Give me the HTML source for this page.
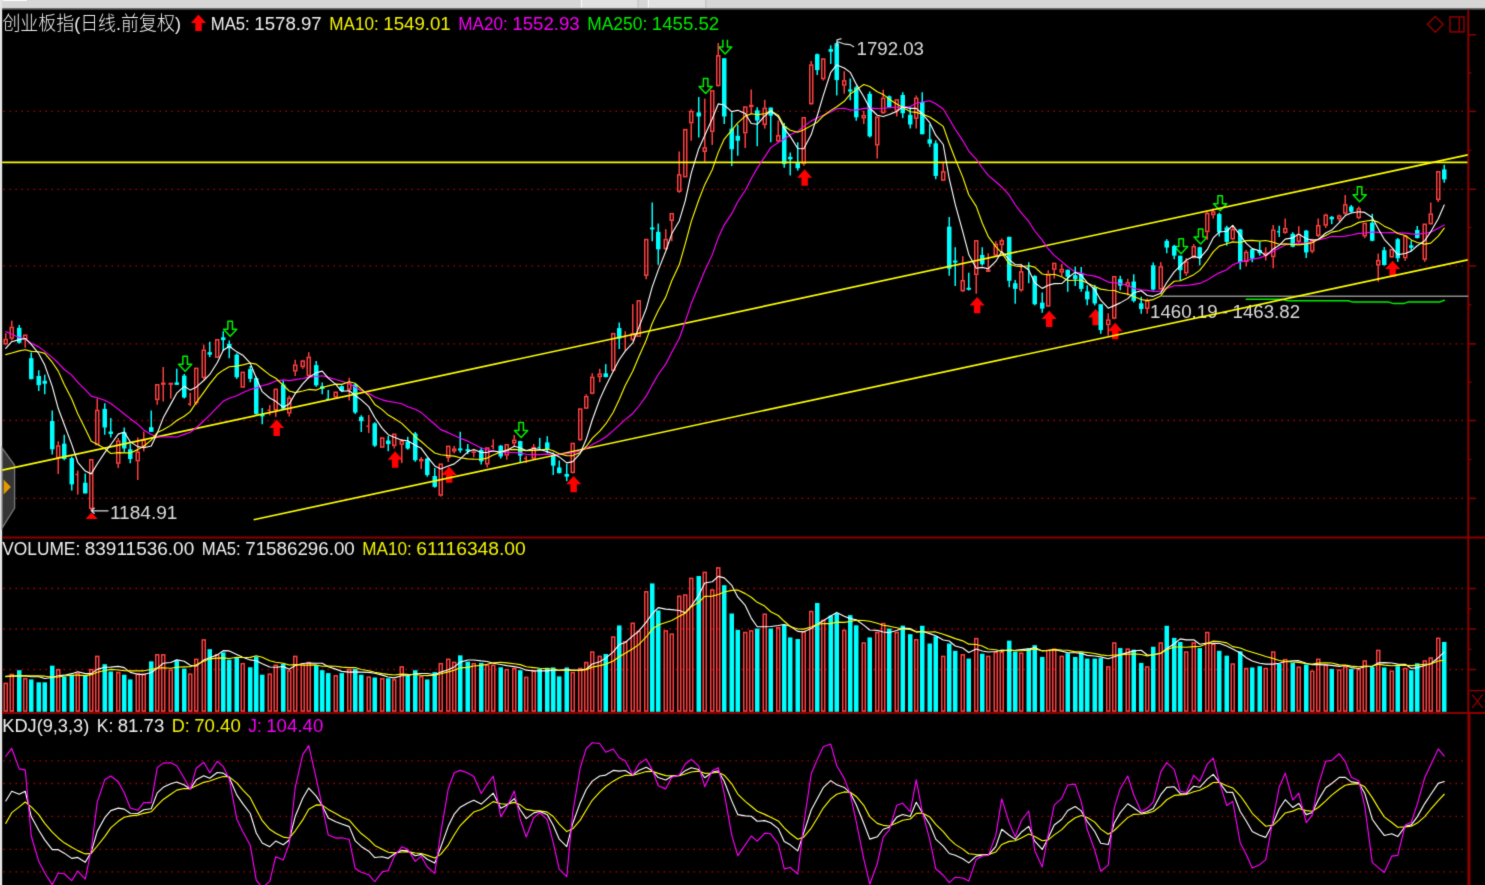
<!DOCTYPE html>
<html><head><meta charset="utf-8"><title>创业板指 日线</title>
<style>
html,body{margin:0;padding:0;background:#000;overflow:hidden}
body{width:1485px;height:885px}
svg{display:block}
text{white-space:pre}
</style></head>
<body>
<svg width="1485" height="885" viewBox="0 0 990 590">
<defs><filter id="soft" x="0" y="0" width="990" height="590" filterUnits="userSpaceOnUse" color-interpolation-filters="sRGB"><feConvolveMatrix order="3" kernelMatrix="1 6 1 6 36 6 1 6 1" divisor="64" edgeMode="duplicate" preserveAlpha="true"/></filter></defs>
<g filter="url(#soft)">
<rect x="0" y="0" width="990" height="590" fill="#000"/>
<rect x="0" y="0" width="990" height="5.7" fill="#d6d6d6"/>
<rect x="0" y="5.5" width="990" height="0.9" fill="#6c6c6c"/>
<rect x="2" y="0" width="16" height="0.7" fill="#fbfbfb"/>
<rect x="387.3" y="0" width="38" height="5" fill="#e0e0e0"/>
<rect x="431.9" y="0" width="38.5" height="5" fill="#e0e0e0"/>
<rect x="387.3" y="0" width="0.8" height="5" fill="#f8f8f8"/>
<rect x="431.9" y="0" width="0.8" height="5" fill="#f8f8f8"/>
<rect x="425.0" y="0" width="0.7" height="5" fill="#bdbdbd"/>
<rect x="470.2" y="0" width="0.7" height="5" fill="#bdbdbd"/>
<rect x="0" y="0" width="1.45" height="590" fill="#e4e4e4"/>
<line x1="2.35" y1="74.27" x2="976.00" y2="74.27" stroke="#c40000" stroke-width="0.9" stroke-dasharray="0.9 3.1"/>
<line x1="2.35" y1="126.20" x2="976.00" y2="126.20" stroke="#c40000" stroke-width="0.9" stroke-dasharray="0.9 3.1"/>
<line x1="2.35" y1="177.27" x2="976.00" y2="177.27" stroke="#c40000" stroke-width="0.9" stroke-dasharray="0.9 3.1"/>
<line x1="2.35" y1="229.27" x2="976.00" y2="229.27" stroke="#c40000" stroke-width="0.9" stroke-dasharray="0.9 3.1"/>
<line x1="2.35" y1="280.33" x2="976.00" y2="280.33" stroke="#c40000" stroke-width="0.9" stroke-dasharray="0.9 3.1"/>
<line x1="2.35" y1="332.27" x2="976.00" y2="332.27" stroke="#c40000" stroke-width="0.9" stroke-dasharray="0.9 3.1"/>
<line x1="2.35" y1="392.33" x2="976.00" y2="392.33" stroke="#c40000" stroke-width="0.9" stroke-dasharray="0.9 3.1"/>
<line x1="2.35" y1="419.33" x2="976.00" y2="419.33" stroke="#c40000" stroke-width="0.9" stroke-dasharray="0.9 3.1"/>
<line x1="2.35" y1="446.33" x2="976.00" y2="446.33" stroke="#c40000" stroke-width="0.9" stroke-dasharray="0.9 3.1"/>
<line x1="2.35" y1="507.27" x2="976.00" y2="507.27" stroke="#c40000" stroke-width="0.9" stroke-dasharray="0.9 3.1"/>
<line x1="2.35" y1="522.33" x2="976.00" y2="522.33" stroke="#c40000" stroke-width="0.9" stroke-dasharray="0.9 3.1"/>
<line x1="2.35" y1="544.27" x2="976.00" y2="544.27" stroke="#c40000" stroke-width="0.9" stroke-dasharray="0.9 3.1"/>
<line x1="2.35" y1="566.27" x2="976.00" y2="566.27" stroke="#c40000" stroke-width="0.9" stroke-dasharray="0.9 3.1"/>
<line x1="2.35" y1="581.27" x2="976.00" y2="581.27" stroke="#c40000" stroke-width="0.9" stroke-dasharray="0.9 3.1"/>
<line x1="1.40" y1="358.33" x2="990.00" y2="358.33" stroke="#8b0000" stroke-width="1.2"/>
<line x1="1.40" y1="475.33" x2="990.00" y2="475.33" stroke="#8b0000" stroke-width="1.4"/>
<line x1="978.85" y1="6.4" x2="978.85" y2="475.5" stroke="#8b0000" stroke-width="1.3"/>
<line x1="979.3000000000001" y1="475.5" x2="979.3000000000001" y2="590" stroke="#8b0000" stroke-width="2.1"/>
<line x1="978.85" y1="23.20" x2="984.15" y2="23.20" stroke="#8b0000" stroke-width="1"/>
<line x1="978.85" y1="48.73" x2="980.85" y2="48.73" stroke="#8b0000" stroke-width="1"/>
<line x1="978.85" y1="74.27" x2="984.15" y2="74.27" stroke="#8b0000" stroke-width="1"/>
<line x1="978.85" y1="100.27" x2="980.85" y2="100.27" stroke="#8b0000" stroke-width="1"/>
<line x1="978.85" y1="126.20" x2="984.15" y2="126.20" stroke="#8b0000" stroke-width="1"/>
<line x1="978.85" y1="151.73" x2="980.85" y2="151.73" stroke="#8b0000" stroke-width="1"/>
<line x1="978.85" y1="177.27" x2="984.15" y2="177.27" stroke="#8b0000" stroke-width="1"/>
<line x1="978.85" y1="203.27" x2="980.85" y2="203.27" stroke="#8b0000" stroke-width="1"/>
<line x1="978.85" y1="229.27" x2="984.15" y2="229.27" stroke="#8b0000" stroke-width="1"/>
<line x1="978.85" y1="254.80" x2="980.85" y2="254.80" stroke="#8b0000" stroke-width="1"/>
<line x1="978.85" y1="280.33" x2="984.15" y2="280.33" stroke="#8b0000" stroke-width="1"/>
<line x1="978.85" y1="306.33" x2="980.85" y2="306.33" stroke="#8b0000" stroke-width="1"/>
<line x1="978.85" y1="332.27" x2="984.15" y2="332.27" stroke="#8b0000" stroke-width="1"/>
<line x1="978.85" y1="392.33" x2="984.15" y2="392.33" stroke="#8b0000" stroke-width="1"/>
<line x1="978.85" y1="405.87" x2="980.85" y2="405.87" stroke="#8b0000" stroke-width="1"/>
<line x1="978.85" y1="419.33" x2="984.15" y2="419.33" stroke="#8b0000" stroke-width="1"/>
<line x1="978.85" y1="432.87" x2="980.85" y2="432.87" stroke="#8b0000" stroke-width="1"/>
<line x1="978.85" y1="446.33" x2="984.15" y2="446.33" stroke="#8b0000" stroke-width="1"/>
<line x1="978.85" y1="460.40" x2="990.00" y2="460.40" stroke="#8b0000" stroke-width="1"/>
<path d="M981.53 463.07L988.40 471.87M988.40 463.07L981.53 471.87" stroke="#8b0000" stroke-width="0.9" fill="none"/>
<rect x="989.47" y="467.00" width="1" height="1" fill="#8b0000"/>
<path d="M956.87 10.93L962.13 16.20L956.87 21.47L951.60 16.20Z" stroke="#8b0000" stroke-width="0.95" fill="none"/>
<rect x="966.67" y="11.27" width="9.33" height="10.00" stroke="#8b0000" stroke-width="1" fill="none"/>
<line x1="972.87" y1="11.27" x2="972.87" y2="21.27" stroke="#8b0000" stroke-width="1"/>
<path d="M1.47 298.73L9.73 310.20L9.73 338.67L1.47 351.93Z" fill="#3a3a3a" fill-opacity="0.92" stroke="#757575" stroke-width="0.9"/>
<path d="M2.40 319.60L7.27 324.60L2.40 329.60Z" fill="#e39a00"/>
<text y="20.20" fill="#f0f0f0" font-family="'Liberation Sans', 'Noto Sans CJK SC', sans-serif" font-size="12.5" font-weight="300"><tspan x="1.60" textLength="119.00" lengthAdjust="spacingAndGlyphs">创业板指(日线.前复权)</tspan></text>
<text y="19.80" fill="#f0f0f0" font-family="'Liberation Sans', 'Noto Sans CJK SC', sans-serif" font-size="12.5"><tspan x="140.50" textLength="26.00" lengthAdjust="spacingAndGlyphs">MA5:</tspan> <tspan x="169.50" textLength="45.00" lengthAdjust="spacingAndGlyphs">1578.97</tspan></text>
<text y="19.80" fill="#f4f400" font-family="'Liberation Sans', 'Noto Sans CJK SC', sans-serif" font-size="12.5"><tspan x="219.50" textLength="33.00" lengthAdjust="spacingAndGlyphs">MA10:</tspan> <tspan x="255.50" textLength="45.00" lengthAdjust="spacingAndGlyphs">1549.01</tspan></text>
<text y="19.80" fill="#f400f4" font-family="'Liberation Sans', 'Noto Sans CJK SC', sans-serif" font-size="12.5"><tspan x="305.50" textLength="33.00" lengthAdjust="spacingAndGlyphs">MA20:</tspan> <tspan x="341.50" textLength="45.00" lengthAdjust="spacingAndGlyphs">1552.93</tspan></text>
<text y="19.80" fill="#00ee00" font-family="'Liberation Sans', 'Noto Sans CJK SC', sans-serif" font-size="12.5"><tspan x="391.50" textLength="40.00" lengthAdjust="spacingAndGlyphs">MA250:</tspan> <tspan x="434.50" textLength="45.00" lengthAdjust="spacingAndGlyphs">1455.52</tspan></text>
<text y="370.33" fill="#f0f0f0" font-family="'Liberation Sans', 'Noto Sans CJK SC', sans-serif" font-size="12.5"><tspan x="1.50" textLength="52.00" lengthAdjust="spacingAndGlyphs">VOLUME:</tspan> <tspan x="56.50" textLength="73.00" lengthAdjust="spacingAndGlyphs">83911536.00</tspan></text>
<text y="370.33" fill="#f0f0f0" font-family="'Liberation Sans', 'Noto Sans CJK SC', sans-serif" font-size="12.5"><tspan x="134.50" textLength="26.00" lengthAdjust="spacingAndGlyphs">MA5:</tspan> <tspan x="163.50" textLength="73.00" lengthAdjust="spacingAndGlyphs">71586296.00</tspan></text>
<text y="370.33" fill="#f4f400" font-family="'Liberation Sans', 'Noto Sans CJK SC', sans-serif" font-size="12.5"><tspan x="241.50" textLength="33.00" lengthAdjust="spacingAndGlyphs">MA10:</tspan> <tspan x="277.50" textLength="73.00" lengthAdjust="spacingAndGlyphs">61116348.00</tspan></text>
<text y="487.93" fill="#f0f0f0" font-family="'Liberation Sans', 'Noto Sans CJK SC', sans-serif" font-size="12.5"><tspan x="1.50" textLength="58.00" lengthAdjust="spacingAndGlyphs">KDJ(9,3,3)</tspan></text>
<text y="487.93" fill="#f0f0f0" font-family="'Liberation Sans', 'Noto Sans CJK SC', sans-serif" font-size="12.5"><tspan x="64.50" textLength="11.00" lengthAdjust="spacingAndGlyphs">K:</tspan> <tspan x="78.50" textLength="31.00" lengthAdjust="spacingAndGlyphs">81.73</tspan></text>
<text y="487.93" fill="#f4f400" font-family="'Liberation Sans', 'Noto Sans CJK SC', sans-serif" font-size="12.5"><tspan x="114.50" textLength="12.00" lengthAdjust="spacingAndGlyphs">D:</tspan> <tspan x="129.50" textLength="31.00" lengthAdjust="spacingAndGlyphs">70.40</tspan></text>
<text y="487.93" fill="#f400f4" font-family="'Liberation Sans', 'Noto Sans CJK SC', sans-serif" font-size="12.5"><tspan x="165.50" textLength="9.00" lengthAdjust="spacingAndGlyphs">J:</tspan> <tspan x="177.50" textLength="38.00" lengthAdjust="spacingAndGlyphs">104.40</tspan></text>
<text y="36.80" fill="#dcdcdc" font-family="'Liberation Sans', 'Noto Sans CJK SC', sans-serif" font-size="12.5"><tspan x="571.00" textLength="45.00" lengthAdjust="spacingAndGlyphs">1792.03</tspan></text>
<text y="345.87" fill="#dcdcdc" font-family="'Liberation Sans', 'Noto Sans CJK SC', sans-serif" font-size="12.5"><tspan x="73.30" textLength="45.00" lengthAdjust="spacingAndGlyphs">1184.91</tspan></text>
<text y="211.80" fill="#dcdcdc" font-family="'Liberation Sans', 'Noto Sans CJK SC', sans-serif" font-size="12.5"><tspan x="766.70" textLength="45.00" lengthAdjust="spacingAndGlyphs">1460.19</tspan> <tspan x="814.70" textLength="4.00" lengthAdjust="spacingAndGlyphs">-</tspan> <tspan x="821.70" textLength="45.00" lengthAdjust="spacingAndGlyphs">1463.82</tspan></text>
<path d="M184.43 279.73L189.48 285.33H186.58V290.63H182.28V285.33H179.38Z" fill="#ff0000"/>
<path d="M263.43 300.87L268.48 306.47H265.58V311.77H261.28V306.47H258.38Z" fill="#ff0000"/>
<path d="M299.43 311.00L304.48 316.60H301.58V321.90H297.28V316.60H294.38Z" fill="#ff0000"/>
<path d="M382.43 317.27L387.48 322.87H384.58V328.17H380.28V322.87H377.38Z" fill="#ff0000"/>
<path d="M536.43 112.87L541.48 118.47H538.58V123.77H534.28V118.47H531.38Z" fill="#ff0000"/>
<path d="M651.43 198.00L656.48 203.60H653.58V208.90H649.28V203.60H646.38Z" fill="#ff0000"/>
<path d="M699.43 207.13L704.48 212.73H701.58V218.03H697.28V212.73H694.38Z" fill="#ff0000"/>
<path d="M730.43 206.00L735.48 211.60H732.58V216.90H728.28V211.60H725.38Z" fill="#ff0000"/>
<path d="M743.43 215.20L748.48 220.80H745.58V226.10H741.28V220.80H738.38Z" fill="#ff0000"/>
<path d="M928.43 173.80L933.48 179.40H930.58V184.70H926.28V179.40H923.38Z" fill="#ff0000"/>
<path d="M132.33 9.73L137.38 15.33H134.48V20.63H130.18V15.33H127.28Z" fill="#ff0000"/>
<path d="M121.93 242.80V237.50H124.93V242.80H127.83L123.43 247.50L119.03 242.80Z" fill="none" stroke="#00f000" stroke-width="1" stroke-linejoin="round"/>
<path d="M151.93 219.53V214.23H154.93V219.53H157.83L153.43 224.23L149.03 219.53Z" fill="none" stroke="#00f000" stroke-width="1" stroke-linejoin="round"/>
<path d="M345.93 286.93V281.63H348.93V286.93H351.83L347.43 291.63L343.03 286.93Z" fill="none" stroke="#00f000" stroke-width="1" stroke-linejoin="round"/>
<path d="M468.93 57.60V52.30H471.93V57.60H474.83L470.43 62.30L466.03 57.60Z" fill="none" stroke="#00f000" stroke-width="1" stroke-linejoin="round"/>
<path d="M785.93 164.40V159.10H788.93V164.40H791.83L787.43 169.10L783.03 164.40Z" fill="none" stroke="#00f000" stroke-width="1" stroke-linejoin="round"/>
<path d="M798.93 157.93V152.63H801.93V157.93H804.83L800.43 162.63L796.03 157.93Z" fill="none" stroke="#00f000" stroke-width="1" stroke-linejoin="round"/>
<path d="M811.93 135.80V130.50H814.93V135.80H817.83L813.43 140.50L809.03 135.80Z" fill="none" stroke="#00f000" stroke-width="1" stroke-linejoin="round"/>
<path d="M904.93 129.80V124.50H907.93V129.80H910.83L906.43 134.50L902.03 129.80Z" fill="none" stroke="#00f000" stroke-width="1" stroke-linejoin="round"/>
<path d="M481.93 26.53V31.33H479.03L483.43 36.03L487.83 31.33H484.93V26.53" fill="none" stroke="#00f000" stroke-width="1" stroke-linejoin="round"/>
<path d="M3.83 222.09V225.86" stroke="#ff4040" stroke-width="1"/>
<path d="M3.83 229.63V230.17" stroke="#ff4040" stroke-width="1"/>
<rect x="2.83" y="226.36" width="2" height="2.77" fill="none" stroke="#ff4040" stroke-width="1"/>
<path d="M7.83 213.79V217.78" stroke="#ff4040" stroke-width="1"/>
<path d="M7.83 225.86V226.94" stroke="#ff4040" stroke-width="1"/>
<rect x="6.83" y="218.28" width="2" height="7.08" fill="none" stroke="#ff4040" stroke-width="1"/>
<path d="M12.83 216.70V229.09" stroke="#00ffff" stroke-width="1"/>
<rect x="11.33" y="218.53" width="3" height="10.02" fill="#00ffff"/>
<path d="M16.83 226.40V231.78" stroke="#ff4040" stroke-width="1"/>
<rect x="15.83" y="223.45" width="2" height="2.45" fill="none" stroke="#ff4040" stroke-width="1"/>
<path d="M20.83 235.02V252.79" stroke="#00ffff" stroke-width="1"/>
<rect x="19.33" y="238.79" width="3" height="14.01" fill="#00ffff"/>
<path d="M25.83 246.87V260.66" stroke="#00ffff" stroke-width="1"/>
<rect x="24.33" y="250.64" width="3" height="6.14" fill="#00ffff"/>
<path d="M29.83 249.78V262.81" stroke="#00ffff" stroke-width="1"/>
<rect x="28.33" y="253.87" width="3" height="1.94" fill="#00ffff"/>
<path d="M34.83 273.67V303.08" stroke="#00ffff" stroke-width="1"/>
<rect x="33.33" y="280.67" width="3" height="18.86" fill="#00ffff"/>
<path d="M38.83 294.14V296.84" stroke="#ff4040" stroke-width="1"/>
<path d="M38.83 305.45V316.01" stroke="#ff4040" stroke-width="1"/>
<rect x="37.83" y="297.34" width="2" height="7.62" fill="none" stroke="#ff4040" stroke-width="1"/>
<path d="M42.83 289.83V306.75" stroke="#00ffff" stroke-width="1"/>
<rect x="41.33" y="295.76" width="3" height="10.24" fill="#00ffff"/>
<path d="M47.83 304.38V327.00" stroke="#00ffff" stroke-width="1"/>
<rect x="46.33" y="305.45" width="3" height="17.45" fill="#00ffff"/>
<path d="M51.83 313.75V329.70" stroke="#ff4040" stroke-width="1"/>
<rect x="50.33" y="315.83" width="1.2" height="1" fill="#ff4040"/>
<path d="M56.83 315.69V328.94" stroke="#00ffff" stroke-width="1"/>
<rect x="55.33" y="321.83" width="3" height="7.11" fill="#00ffff"/>
<path d="M60.83 339.39V339.93" stroke="#ff4040" stroke-width="1"/>
<rect x="59.83" y="306.49" width="2" height="32.40" fill="none" stroke="#ff4040" stroke-width="1"/>
<path d="M64.83 265.59V273.13" stroke="#ff4040" stroke-width="1"/>
<rect x="63.83" y="273.63" width="2" height="22.70" fill="none" stroke="#ff4040" stroke-width="1"/>
<path d="M69.83 268.82V289.83" stroke="#00ffff" stroke-width="1"/>
<rect x="68.33" y="272.59" width="3" height="12.39" fill="#00ffff"/>
<path d="M73.83 278.73V291.66" stroke="#00ffff" stroke-width="1"/>
<rect x="72.33" y="287.68" width="3" height="1.62" fill="#00ffff"/>
<path d="M78.83 291.99V293.60" stroke="#ff4040" stroke-width="1"/>
<path d="M78.83 309.23V311.92" stroke="#ff4040" stroke-width="1"/>
<rect x="77.83" y="294.10" width="2" height="14.62" fill="none" stroke="#ff4040" stroke-width="1"/>
<path d="M82.83 284.98V301.68" stroke="#00ffff" stroke-width="1"/>
<rect x="81.33" y="288.22" width="3" height="10.77" fill="#00ffff"/>
<path d="M86.83 295.76V308.90" stroke="#00ffff" stroke-width="1"/>
<rect x="85.33" y="299.53" width="3" height="6.46" fill="#00ffff"/>
<path d="M91.83 291.66V300.93" stroke="#ff4040" stroke-width="1"/>
<path d="M91.83 307.61V320.00" stroke="#ff4040" stroke-width="1"/>
<rect x="90.83" y="301.43" width="2" height="5.68" fill="none" stroke="#ff4040" stroke-width="1"/>
<path d="M95.83 287.68V293.06" stroke="#ff4040" stroke-width="1"/>
<path d="M95.83 297.91V300.93" stroke="#ff4040" stroke-width="1"/>
<rect x="94.83" y="293.56" width="2" height="3.85" fill="none" stroke="#ff4040" stroke-width="1"/>
<path d="M100.83 273.67V287.89" stroke="#00ffff" stroke-width="1"/>
<rect x="99.33" y="284.77" width="3" height="3.12" fill="#00ffff"/>
<path d="M104.83 266.80V269.82" stroke="#ff4040" stroke-width="1"/>
<rect x="103.83" y="256.53" width="2" height="9.77" fill="none" stroke="#ff4040" stroke-width="1"/>
<path d="M108.83 244.71V254.95" stroke="#ff4040" stroke-width="1"/>
<path d="M108.83 256.57V267.66" stroke="#ff4040" stroke-width="1"/>
<rect x="107.83" y="255.45" width="2" height="0.62" fill="none" stroke="#ff4040" stroke-width="1"/>
<path d="M113.83 256.57V265.72" stroke="#ff4040" stroke-width="1"/>
<rect x="112.83" y="255.66" width="2" height="0.40" fill="none" stroke="#ff4040" stroke-width="1"/>
<path d="M117.83 245.79V256.57" stroke="#00ffff" stroke-width="1"/>
<rect x="116.33" y="254.95" width="3" height="1.62" fill="#00ffff"/>
<path d="M122.83 249.36V265.74" stroke="#00ffff" stroke-width="1"/>
<rect x="121.33" y="250.44" width="3" height="14.55" fill="#00ffff"/>
<path d="M126.83 261.75V270.69" stroke="#ff4040" stroke-width="1"/>
<rect x="125.33" y="268.83" width="1.2" height="1" fill="#ff4040"/>
<path d="M130.83 268.97V269.83" stroke="#ff4040" stroke-width="1"/>
<rect x="129.83" y="245.55" width="2" height="22.92" fill="none" stroke="#ff4040" stroke-width="1"/>
<path d="M135.83 229.75V232.98" stroke="#ff4040" stroke-width="1"/>
<path d="M135.83 252.05V252.81" stroke="#ff4040" stroke-width="1"/>
<rect x="134.83" y="233.48" width="2" height="18.07" fill="none" stroke="#ff4040" stroke-width="1"/>
<path d="M139.83 227.81V238.05" stroke="#00ffff" stroke-width="1"/>
<rect x="138.33" y="234.81" width="3" height="1.62" fill="#00ffff"/>
<rect x="143.83" y="226.48" width="2" height="11.61" fill="none" stroke="#ff4040" stroke-width="1"/>
<path d="M148.83 220.81V234.06" stroke="#00ffff" stroke-width="1"/>
<rect x="147.33" y="224.90" width="3" height="1.83" fill="#00ffff"/>
<path d="M152.83 226.95V238.80" stroke="#00ffff" stroke-width="1"/>
<rect x="151.33" y="229.21" width="3" height="2.91" fill="#00ffff"/>
<path d="M157.83 235.57V252.59" stroke="#00ffff" stroke-width="1"/>
<rect x="156.33" y="236.43" width="3" height="15.08" fill="#00ffff"/>
<rect x="160.83" y="248.24" width="2" height="9.77" fill="none" stroke="#ff4040" stroke-width="1"/>
<path d="M166.83 243.97V254.75" stroke="#00ffff" stroke-width="1"/>
<rect x="165.33" y="246.13" width="3" height="6.46" fill="#00ffff"/>
<path d="M170.83 250.98V276.30" stroke="#00ffff" stroke-width="1"/>
<rect x="169.33" y="252.05" width="3" height="24.03" fill="#00ffff"/>
<path d="M174.83 271.99V282.76" stroke="#00ffff" stroke-width="1"/>
<rect x="173.33" y="276.08" width="3" height="1.51" fill="#00ffff"/>
<path d="M179.83 270.05V276.84" stroke="#ff4040" stroke-width="1"/>
<rect x="178.33" y="272.97" width="1.2" height="1" fill="#ff4040"/>
<path d="M183.83 273.60V277.91" stroke="#ff4040" stroke-width="1"/>
<rect x="182.83" y="259.56" width="2" height="13.55" fill="none" stroke="#ff4040" stroke-width="1"/>
<path d="M188.83 253.67V273.06" stroke="#00ffff" stroke-width="1"/>
<rect x="187.33" y="256.36" width="3" height="16.16" fill="#00ffff"/>
<path d="M192.83 263.91V264.98" stroke="#ff4040" stroke-width="1"/>
<path d="M192.83 275.76V277.59" stroke="#ff4040" stroke-width="1"/>
<rect x="191.83" y="265.48" width="2" height="9.77" fill="none" stroke="#ff4040" stroke-width="1"/>
<path d="M196.83 239.88V242.90" stroke="#ff4040" stroke-width="1"/>
<path d="M196.83 247.74V250.65" stroke="#ff4040" stroke-width="1"/>
<rect x="195.83" y="243.40" width="2" height="3.85" fill="none" stroke="#ff4040" stroke-width="1"/>
<path d="M201.83 239.88V240.20" stroke="#ff4040" stroke-width="1"/>
<path d="M201.83 244.84V245.91" stroke="#ff4040" stroke-width="1"/>
<rect x="200.83" y="240.70" width="2" height="3.63" fill="none" stroke="#ff4040" stroke-width="1"/>
<path d="M205.83 234.81V237.72" stroke="#ff4040" stroke-width="1"/>
<path d="M205.83 250.76V251.52" stroke="#ff4040" stroke-width="1"/>
<rect x="204.83" y="238.22" width="2" height="12.04" fill="none" stroke="#ff4040" stroke-width="1"/>
<path d="M210.83 240.74V257.76" stroke="#00ffff" stroke-width="1"/>
<rect x="209.33" y="243.43" width="3" height="13.47" fill="#00ffff"/>
<path d="M214.83 254.96V262.83" stroke="#00ffff" stroke-width="1"/>
<rect x="213.33" y="257.44" width="3" height="1.83" fill="#00ffff"/>
<path d="M218.83 259.92V266.60" stroke="#00ffff" stroke-width="1"/>
<rect x="217.33" y="265.70" width="1.2" height="1" fill="#00ffff"/>
<rect x="222.83" y="261.50" width="2" height="2.99" fill="none" stroke="#ff4040" stroke-width="1"/>
<path d="M227.83 256.90V261.43" stroke="#00ffff" stroke-width="1"/>
<rect x="226.33" y="257.44" width="3" height="3.23" fill="#00ffff"/>
<path d="M232.83 251.84V255.29" stroke="#ff4040" stroke-width="1"/>
<path d="M232.83 259.92V266.92" stroke="#ff4040" stroke-width="1"/>
<rect x="231.83" y="255.79" width="2" height="3.63" fill="none" stroke="#ff4040" stroke-width="1"/>
<path d="M236.83 255.61V276.08" stroke="#00ffff" stroke-width="1"/>
<rect x="235.33" y="256.36" width="3" height="18.64" fill="#00ffff"/>
<path d="M240.83 276.84V287.93" stroke="#00ffff" stroke-width="1"/>
<rect x="239.33" y="277.91" width="3" height="2.91" fill="#00ffff"/>
<path d="M245.83 276.63V288.70" stroke="#ff4040" stroke-width="1"/>
<rect x="244.33" y="283.63" width="1.2" height="1" fill="#ff4040"/>
<path d="M249.83 281.48V297.97" stroke="#00ffff" stroke-width="1"/>
<rect x="248.33" y="282.24" width="3" height="14.87" fill="#00ffff"/>
<path d="M254.83 298.51V298.72" stroke="#ff4040" stroke-width="1"/>
<rect x="253.83" y="292.00" width="2" height="6.00" fill="none" stroke="#ff4040" stroke-width="1"/>
<path d="M258.83 290.64V300.88" stroke="#00ffff" stroke-width="1"/>
<rect x="257.33" y="293.66" width="3" height="2.37" fill="#00ffff"/>
<path d="M262.83 297.43V299.04" stroke="#ff4040" stroke-width="1"/>
<rect x="261.83" y="289.52" width="2" height="7.40" fill="none" stroke="#ff4040" stroke-width="1"/>
<path d="M267.83 292.79V293.55" stroke="#ff4040" stroke-width="1"/>
<path d="M267.83 296.57V308.74" stroke="#ff4040" stroke-width="1"/>
<rect x="266.83" y="294.05" width="2" height="2.02" fill="none" stroke="#ff4040" stroke-width="1"/>
<path d="M271.83 291.18V299.80" stroke="#00ffff" stroke-width="1"/>
<rect x="270.33" y="294.41" width="3" height="4.63" fill="#00ffff"/>
<path d="M276.83 287.95V307.88" stroke="#00ffff" stroke-width="1"/>
<rect x="275.33" y="289.02" width="3" height="17.78" fill="#00ffff"/>
<path d="M280.83 304.65V305.94" stroke="#ff4040" stroke-width="1"/>
<path d="M280.83 307.66V312.73" stroke="#ff4040" stroke-width="1"/>
<rect x="279.83" y="306.44" width="2" height="0.72" fill="none" stroke="#ff4040" stroke-width="1"/>
<path d="M284.83 305.19V317.79" stroke="#00ffff" stroke-width="1"/>
<rect x="283.33" y="305.72" width="3" height="10.99" fill="#00ffff"/>
<path d="M289.83 311.97V325.12" stroke="#00ffff" stroke-width="1"/>
<rect x="288.33" y="317.36" width="3" height="7.22" fill="#00ffff"/>
<path d="M293.83 330.51V331.04" stroke="#ff4040" stroke-width="1"/>
<rect x="292.83" y="309.46" width="2" height="20.55" fill="none" stroke="#ff4040" stroke-width="1"/>
<path d="M298.83 305.39V308.08" stroke="#ff4040" stroke-width="1"/>
<rect x="297.83" y="297.59" width="2" height="7.30" fill="none" stroke="#ff4040" stroke-width="1"/>
<path d="M302.83 297.31V298.92" stroke="#ff4040" stroke-width="1"/>
<path d="M302.83 301.08V302.15" stroke="#ff4040" stroke-width="1"/>
<rect x="301.83" y="299.42" width="2" height="1.15" fill="none" stroke="#ff4040" stroke-width="1"/>
<path d="M306.83 287.82V301.83" stroke="#00ffff" stroke-width="1"/>
<rect x="305.33" y="298.92" width="3" height="1.40" fill="#00ffff"/>
<path d="M311.83 296.01V302.69" stroke="#00ffff" stroke-width="1"/>
<rect x="310.33" y="299.46" width="3" height="1.40" fill="#00ffff"/>
<path d="M315.83 300.00V300.86" stroke="#ff4040" stroke-width="1"/>
<path d="M315.83 301.94V304.85" stroke="#ff4040" stroke-width="1"/>
<rect x="314.83" y="301.36" width="2" height="0.08" fill="none" stroke="#ff4040" stroke-width="1"/>
<path d="M320.83 298.38V309.70" stroke="#00ffff" stroke-width="1"/>
<rect x="319.33" y="300.00" width="3" height="7.54" fill="#00ffff"/>
<path d="M324.83 309.70V311.64" stroke="#ff4040" stroke-width="1"/>
<rect x="323.83" y="298.67" width="2" height="10.53" fill="none" stroke="#ff4040" stroke-width="1"/>
<path d="M328.83 292.78V299.46" stroke="#ff4040" stroke-width="1"/>
<rect x="327.33" y="296.97" width="1.2" height="1" fill="#ff4040"/>
<path d="M333.83 296.77V305.71" stroke="#00ffff" stroke-width="1"/>
<rect x="332.33" y="297.09" width="3" height="7.22" fill="#00ffff"/>
<path d="M337.83 303.77V306.46" stroke="#ff4040" stroke-width="1"/>
<rect x="336.83" y="296.51" width="2" height="6.76" fill="none" stroke="#ff4040" stroke-width="1"/>
<path d="M342.83 289.98V293.00" stroke="#ff4040" stroke-width="1"/>
<path d="M342.83 295.69V297.85" stroke="#ff4040" stroke-width="1"/>
<rect x="341.83" y="293.50" width="2" height="1.69" fill="none" stroke="#ff4040" stroke-width="1"/>
<path d="M346.83 293.86V308.30" stroke="#00ffff" stroke-width="1"/>
<rect x="345.33" y="294.07" width="3" height="9.70" fill="#00ffff"/>
<path d="M350.83 303.77V308.62" stroke="#ff4040" stroke-width="1"/>
<rect x="349.33" y="305.17" width="1.2" height="1" fill="#ff4040"/>
<path d="M355.83 296.01V297.85" stroke="#ff4040" stroke-width="1"/>
<path d="M355.83 305.93V306.46" stroke="#ff4040" stroke-width="1"/>
<rect x="354.83" y="298.35" width="2" height="7.08" fill="none" stroke="#ff4040" stroke-width="1"/>
<path d="M359.83 291.92V299.46" stroke="#00ffff" stroke-width="1"/>
<rect x="358.33" y="297.90" width="1.2" height="1" fill="#00ffff"/>
<path d="M364.83 290.84V302.15" stroke="#00ffff" stroke-width="1"/>
<rect x="363.33" y="294.94" width="3" height="5.06" fill="#00ffff"/>
<path d="M368.83 301.62V316.70" stroke="#00ffff" stroke-width="1"/>
<rect x="367.33" y="302.69" width="3" height="7.76" fill="#00ffff"/>
<path d="M372.83 307.00V315.62" stroke="#00ffff" stroke-width="1"/>
<rect x="371.33" y="311.64" width="3" height="3.77" fill="#00ffff"/>
<path d="M377.83 309.16V320.79" stroke="#00ffff" stroke-width="1"/>
<rect x="376.33" y="315.95" width="3" height="1.83" fill="#00ffff"/>
<path d="M381.83 315.41V315.62" stroke="#ff4040" stroke-width="1"/>
<rect x="380.83" y="295.65" width="2" height="19.26" fill="none" stroke="#ff4040" stroke-width="1"/>
<path d="M386.83 293.54V293.75" stroke="#ff4040" stroke-width="1"/>
<rect x="385.83" y="272.70" width="2" height="20.33" fill="none" stroke="#ff4040" stroke-width="1"/>
<path d="M390.83 262.83V263.91" stroke="#ff4040" stroke-width="1"/>
<path d="M390.83 272.53V272.74" stroke="#ff4040" stroke-width="1"/>
<rect x="389.83" y="264.41" width="2" height="7.62" fill="none" stroke="#ff4040" stroke-width="1"/>
<path d="M394.83 248.89V251.04" stroke="#ff4040" stroke-width="1"/>
<path d="M394.83 262.57V262.90" stroke="#ff4040" stroke-width="1"/>
<rect x="393.83" y="251.54" width="2" height="10.53" fill="none" stroke="#ff4040" stroke-width="1"/>
<path d="M399.83 245.87V248.89" stroke="#ff4040" stroke-width="1"/>
<path d="M399.83 251.58V254.81" stroke="#ff4040" stroke-width="1"/>
<rect x="398.83" y="249.39" width="2" height="1.69" fill="none" stroke="#ff4040" stroke-width="1"/>
<path d="M403.83 242.75V251.58" stroke="#00ffff" stroke-width="1"/>
<rect x="402.33" y="248.89" width="3" height="2.48" fill="#00ffff"/>
<path d="M408.83 247.27V247.81" stroke="#ff4040" stroke-width="1"/>
<rect x="407.83" y="222.45" width="2" height="24.32" fill="none" stroke="#ff4040" stroke-width="1"/>
<path d="M412.83 214.95V232.73" stroke="#00ffff" stroke-width="1"/>
<rect x="411.33" y="218.72" width="3" height="7.00" fill="#00ffff"/>
<path d="M416.83 220.88V233.80" stroke="#ff4040" stroke-width="1"/>
<rect x="415.33" y="224.10" width="1.2" height="1" fill="#ff4040"/>
<path d="M421.83 202.77V221.95" stroke="#ff4040" stroke-width="1"/>
<path d="M421.83 226.80V227.34" stroke="#ff4040" stroke-width="1"/>
<rect x="420.83" y="222.45" width="2" height="3.85" fill="none" stroke="#ff4040" stroke-width="1"/>
<rect x="424.83" y="200.58" width="2" height="23.57" fill="none" stroke="#ff4040" stroke-width="1"/>
<path d="M430.83 183.97V186.13" stroke="#ff4040" stroke-width="1"/>
<rect x="429.83" y="159.69" width="2" height="23.78" fill="none" stroke="#ff4040" stroke-width="1"/>
<path d="M434.83 134.95V160.81" stroke="#00ffff" stroke-width="1"/>
<rect x="433.33" y="151.65" width="3" height="1.29" fill="#00ffff"/>
<path d="M438.83 148.96V176.43" stroke="#00ffff" stroke-width="1"/>
<rect x="437.33" y="154.56" width="3" height="11.64" fill="#00ffff"/>
<path d="M443.83 152.73V159.19" stroke="#ff4040" stroke-width="1"/>
<path d="M443.83 166.20V166.73" stroke="#ff4040" stroke-width="1"/>
<rect x="442.83" y="159.69" width="2" height="6.00" fill="none" stroke="#ff4040" stroke-width="1"/>
<path d="M447.83 147.34V160.81" stroke="#ff4040" stroke-width="1"/>
<rect x="446.83" y="142.45" width="2" height="4.39" fill="none" stroke="#ff4040" stroke-width="1"/>
<path d="M452.83 101.01V116.09" stroke="#ff4040" stroke-width="1"/>
<path d="M452.83 127.95V128.48" stroke="#ff4040" stroke-width="1"/>
<rect x="451.83" y="116.59" width="2" height="10.85" fill="none" stroke="#ff4040" stroke-width="1"/>
<rect x="455.83" y="86.44" width="2" height="31.32" fill="none" stroke="#ff4040" stroke-width="1"/>
<path d="M460.83 72.79V73.87" stroke="#ff4040" stroke-width="1"/>
<path d="M460.83 82.28V93.80" stroke="#ff4040" stroke-width="1"/>
<rect x="459.83" y="74.37" width="2" height="7.40" fill="none" stroke="#ff4040" stroke-width="1"/>
<path d="M465.83 64.71V91.65" stroke="#00ffff" stroke-width="1"/>
<rect x="464.33" y="74.95" width="3" height="2.69" fill="#00ffff"/>
<path d="M469.83 65.79V98.11" stroke="#ff4040" stroke-width="1"/>
<path d="M469.83 101.35V107.81" stroke="#ff4040" stroke-width="1"/>
<rect x="468.83" y="98.61" width="2" height="2.23" fill="none" stroke="#ff4040" stroke-width="1"/>
<path d="M474.83 88.09V96.71" stroke="#ff4040" stroke-width="1"/>
<rect x="473.83" y="60.58" width="2" height="27.01" fill="none" stroke="#ff4040" stroke-width="1"/>
<path d="M478.83 28.62V36.70" stroke="#ff4040" stroke-width="1"/>
<path d="M478.83 57.49V57.71" stroke="#ff4040" stroke-width="1"/>
<rect x="477.83" y="37.20" width="2" height="19.79" fill="none" stroke="#ff4040" stroke-width="1"/>
<path d="M482.83 38.86V82.71" stroke="#00ffff" stroke-width="1"/>
<rect x="481.33" y="38.86" width="3" height="38.79" fill="#00ffff"/>
<path d="M487.83 74.95V110.72" stroke="#00ffff" stroke-width="1"/>
<rect x="486.33" y="85.72" width="3" height="13.79" fill="#00ffff"/>
<path d="M491.83 83.03V103.82" stroke="#00ffff" stroke-width="1"/>
<rect x="490.33" y="90.57" width="3" height="3.23" fill="#00ffff"/>
<path d="M496.83 88.96V98.65" stroke="#ff4040" stroke-width="1"/>
<rect x="495.83" y="71.36" width="2" height="17.10" fill="none" stroke="#ff4040" stroke-width="1"/>
<path d="M500.83 59.65V69.78" stroke="#ff4040" stroke-width="1"/>
<path d="M500.83 71.50V76.03" stroke="#ff4040" stroke-width="1"/>
<rect x="499.83" y="70.28" width="2" height="0.72" fill="none" stroke="#ff4040" stroke-width="1"/>
<path d="M504.83 71.50V97.58" stroke="#00ffff" stroke-width="1"/>
<rect x="503.33" y="73.55" width="3" height="6.79" fill="#00ffff"/>
<path d="M509.83 66.55V71.72" stroke="#ff4040" stroke-width="1"/>
<path d="M509.83 83.35V85.72" stroke="#ff4040" stroke-width="1"/>
<rect x="508.83" y="72.22" width="2" height="10.64" fill="none" stroke="#ff4040" stroke-width="1"/>
<path d="M513.83 71.72V94.88" stroke="#00ffff" stroke-width="1"/>
<rect x="512.33" y="71.72" width="3" height="5.39" fill="#00ffff"/>
<path d="M518.83 80.34V90.03" stroke="#ff4040" stroke-width="1"/>
<path d="M518.83 94.34V94.88" stroke="#ff4040" stroke-width="1"/>
<rect x="517.83" y="90.53" width="2" height="3.31" fill="none" stroke="#ff4040" stroke-width="1"/>
<path d="M522.83 81.95V111.80" stroke="#00ffff" stroke-width="1"/>
<rect x="521.33" y="84.11" width="3" height="25.32" fill="#00ffff"/>
<path d="M526.83 101.67V116.97" stroke="#00ffff" stroke-width="1"/>
<rect x="525.33" y="104.58" width="3" height="1.62" fill="#00ffff"/>
<path d="M531.83 94.88V113.74" stroke="#00ffff" stroke-width="1"/>
<rect x="530.33" y="108.57" width="3" height="3.56" fill="#00ffff"/>
<path d="M535.83 109.43V110.51" stroke="#ff4040" stroke-width="1"/>
<rect x="534.83" y="78.47" width="2" height="30.46" fill="none" stroke="#ff4040" stroke-width="1"/>
<path d="M540.83 40.69V42.84" stroke="#ff4040" stroke-width="1"/>
<path d="M540.83 69.56V69.78" stroke="#ff4040" stroke-width="1"/>
<rect x="539.83" y="43.34" width="2" height="25.72" fill="none" stroke="#ff4040" stroke-width="1"/>
<path d="M544.83 35.62V49.95" stroke="#00ffff" stroke-width="1"/>
<rect x="543.33" y="36.16" width="3" height="10.56" fill="#00ffff"/>
<path d="M548.83 52.86V53.62" stroke="#ff4040" stroke-width="1"/>
<rect x="547.83" y="39.36" width="2" height="13.01" fill="none" stroke="#ff4040" stroke-width="1"/>
<path d="M553.83 30.24V42.63" stroke="#00ffff" stroke-width="1"/>
<rect x="552.33" y="32.71" width="3" height="1.83" fill="#00ffff"/>
<path d="M557.83 28.08V63.64" stroke="#00ffff" stroke-width="1"/>
<rect x="556.33" y="28.84" width="3" height="24.57" fill="#00ffff"/>
<path d="M562.83 47.47V53.40" stroke="#ff4040" stroke-width="1"/>
<path d="M562.83 57.17V62.56" stroke="#ff4040" stroke-width="1"/>
<rect x="561.83" y="53.90" width="2" height="2.77" fill="none" stroke="#ff4040" stroke-width="1"/>
<path d="M566.83 52.32V66.87" stroke="#00ffff" stroke-width="1"/>
<rect x="565.33" y="59.65" width="3" height="1.29" fill="#00ffff"/>
<path d="M570.83 57.17V80.55" stroke="#00ffff" stroke-width="1"/>
<rect x="569.33" y="58.25" width="3" height="19.93" fill="#00ffff"/>
<path d="M575.83 73.87V76.57" stroke="#ff4040" stroke-width="1"/>
<path d="M575.83 79.04V82.71" stroke="#ff4040" stroke-width="1"/>
<rect x="574.83" y="77.07" width="2" height="1.48" fill="none" stroke="#ff4040" stroke-width="1"/>
<path d="M579.83 60.94V91.65" stroke="#00ffff" stroke-width="1"/>
<rect x="578.33" y="62.56" width="3" height="28.34" fill="#00ffff"/>
<path d="M584.83 97.04V105.66" stroke="#ff4040" stroke-width="1"/>
<rect x="583.83" y="78.14" width="2" height="18.39" fill="none" stroke="#ff4040" stroke-width="1"/>
<path d="M588.83 59.87V65.04" stroke="#ff4040" stroke-width="1"/>
<path d="M588.83 75.49V76.03" stroke="#ff4040" stroke-width="1"/>
<rect x="587.83" y="65.54" width="2" height="9.45" fill="none" stroke="#ff4040" stroke-width="1"/>
<path d="M592.83 63.64V71.72" stroke="#00ffff" stroke-width="1"/>
<rect x="591.33" y="64.18" width="3" height="7.33" fill="#00ffff"/>
<path d="M597.83 73.87V77.64" stroke="#ff4040" stroke-width="1"/>
<rect x="596.83" y="66.61" width="2" height="6.76" fill="none" stroke="#ff4040" stroke-width="1"/>
<path d="M601.83 61.48V78.72" stroke="#00ffff" stroke-width="1"/>
<rect x="600.33" y="63.31" width="3" height="12.18" fill="#00ffff"/>
<path d="M606.83 71.72V85.72" stroke="#00ffff" stroke-width="1"/>
<rect x="605.33" y="76.57" width="3" height="6.46" fill="#00ffff"/>
<path d="M610.83 63.64V65.04" stroke="#ff4040" stroke-width="1"/>
<path d="M610.83 79.26V85.72" stroke="#ff4040" stroke-width="1"/>
<rect x="609.83" y="65.54" width="2" height="13.22" fill="none" stroke="#ff4040" stroke-width="1"/>
<path d="M614.83 61.48V89.49" stroke="#00ffff" stroke-width="1"/>
<rect x="613.33" y="67.95" width="3" height="21.55" fill="#00ffff"/>
<path d="M619.83 82.83V97.91" stroke="#00ffff" stroke-width="1"/>
<rect x="618.33" y="92.85" width="3" height="2.91" fill="#00ffff"/>
<path d="M623.83 93.60V119.46" stroke="#00ffff" stroke-width="1"/>
<rect x="622.33" y="95.54" width="3" height="21.76" fill="#00ffff"/>
<path d="M628.83 108.69V114.07" stroke="#ff4040" stroke-width="1"/>
<rect x="627.83" y="114.57" width="2" height="5.46" fill="none" stroke="#ff4040" stroke-width="1"/>
<path d="M632.83 144.65V183.76" stroke="#00ffff" stroke-width="1"/>
<rect x="631.33" y="151.11" width="3" height="28.01" fill="#00ffff"/>
<path d="M636.83 164.79V190.65" stroke="#00ffff" stroke-width="1"/>
<rect x="635.33" y="173.74" width="3" height="1.29" fill="#00ffff"/>
<path d="M641.83 170.83V186.67" stroke="#ff4040" stroke-width="1"/>
<path d="M641.83 194.21V194.75" stroke="#ff4040" stroke-width="1"/>
<rect x="640.83" y="187.17" width="2" height="6.54" fill="none" stroke="#ff4040" stroke-width="1"/>
<path d="M645.83 181.82V193.67" stroke="#00ffff" stroke-width="1"/>
<rect x="644.33" y="191.84" width="3" height="1.29" fill="#00ffff"/>
<path d="M650.83 183.43V195.82" stroke="#ff4040" stroke-width="1"/>
<rect x="649.83" y="160.55" width="2" height="22.38" fill="none" stroke="#ff4040" stroke-width="1"/>
<path d="M654.83 164.79V176.97" stroke="#00ffff" stroke-width="1"/>
<rect x="653.33" y="169.97" width="3" height="6.25" fill="#00ffff"/>
<path d="M658.83 168.89V179.66" stroke="#ff4040" stroke-width="1"/>
<rect x="657.83" y="180.16" width="2" height="0.62" fill="none" stroke="#ff4040" stroke-width="1"/>
<path d="M663.83 160.81V162.42" stroke="#ff4040" stroke-width="1"/>
<path d="M663.83 170.51V171.04" stroke="#ff4040" stroke-width="1"/>
<rect x="662.83" y="162.92" width="2" height="7.08" fill="none" stroke="#ff4040" stroke-width="1"/>
<path d="M667.83 158.98V160.05" stroke="#ff4040" stroke-width="1"/>
<path d="M667.83 163.50V167.81" stroke="#ff4040" stroke-width="1"/>
<rect x="666.83" y="160.55" width="2" height="2.45" fill="none" stroke="#ff4040" stroke-width="1"/>
<path d="M672.83 157.90V191.52" stroke="#00ffff" stroke-width="1"/>
<rect x="671.33" y="157.90" width="3" height="29.31" fill="#00ffff"/>
<path d="M676.83 186.67V202.51" stroke="#00ffff" stroke-width="1"/>
<rect x="675.33" y="188.82" width="3" height="3.77" fill="#00ffff"/>
<path d="M680.83 175.89V180.74" stroke="#ff4040" stroke-width="1"/>
<path d="M680.83 193.67V194.53" stroke="#ff4040" stroke-width="1"/>
<rect x="679.83" y="181.24" width="2" height="11.93" fill="none" stroke="#ff4040" stroke-width="1"/>
<path d="M685.83 174.81V188.82" stroke="#00ffff" stroke-width="1"/>
<rect x="684.33" y="178.17" width="1.2" height="1" fill="#00ffff"/>
<path d="M689.83 183.43V203.58" stroke="#00ffff" stroke-width="1"/>
<rect x="688.33" y="183.97" width="3" height="18.86" fill="#00ffff"/>
<path d="M694.83 194.96V208.54" stroke="#00ffff" stroke-width="1"/>
<rect x="693.33" y="201.75" width="3" height="3.99" fill="#00ffff"/>
<path d="M698.83 180.20V182.36" stroke="#ff4040" stroke-width="1"/>
<path d="M698.83 204.44V204.66" stroke="#ff4040" stroke-width="1"/>
<rect x="697.83" y="182.86" width="2" height="21.09" fill="none" stroke="#ff4040" stroke-width="1"/>
<path d="M702.83 179.88V185.59" stroke="#ff4040" stroke-width="1"/>
<rect x="701.83" y="175.64" width="2" height="3.74" fill="none" stroke="#ff4040" stroke-width="1"/>
<path d="M707.83 175.89V179.12" stroke="#ff4040" stroke-width="1"/>
<path d="M707.83 181.82V183.97" stroke="#ff4040" stroke-width="1"/>
<rect x="706.83" y="179.62" width="2" height="1.69" fill="none" stroke="#ff4040" stroke-width="1"/>
<path d="M711.83 179.66V194.53" stroke="#00ffff" stroke-width="1"/>
<rect x="710.33" y="179.88" width="3" height="4.63" fill="#00ffff"/>
<path d="M716.83 177.72V190.65" stroke="#00ffff" stroke-width="1"/>
<rect x="715.33" y="183.43" width="3" height="2.69" fill="#00ffff"/>
<path d="M720.83 178.05V194.53" stroke="#00ffff" stroke-width="1"/>
<rect x="719.33" y="182.36" width="3" height="10.24" fill="#00ffff"/>
<path d="M724.83 190.22V203.58" stroke="#00ffff" stroke-width="1"/>
<rect x="723.33" y="194.21" width="3" height="5.39" fill="#00ffff"/>
<path d="M729.83 189.90V203.58" stroke="#00ffff" stroke-width="1"/>
<rect x="728.33" y="191.52" width="3" height="10.77" fill="#00ffff"/>
<path d="M733.83 202.83V222.55" stroke="#00ffff" stroke-width="1"/>
<rect x="732.33" y="202.83" width="3" height="17.24" fill="#00ffff"/>
<path d="M738.83 208.75V212.85" stroke="#ff4040" stroke-width="1"/>
<path d="M738.83 216.84V223.84" stroke="#ff4040" stroke-width="1"/>
<rect x="737.83" y="213.35" width="2" height="2.99" fill="none" stroke="#ff4040" stroke-width="1"/>
<path d="M742.83 212.53V212.85" stroke="#ff4040" stroke-width="1"/>
<rect x="741.83" y="184.47" width="2" height="27.55" fill="none" stroke="#ff4040" stroke-width="1"/>
<path d="M746.83 183.76V193.45" stroke="#00ffff" stroke-width="1"/>
<rect x="745.33" y="186.13" width="3" height="4.31" fill="#00ffff"/>
<path d="M751.83 185.91V188.07" stroke="#ff4040" stroke-width="1"/>
<path d="M751.83 190.98V196.90" stroke="#ff4040" stroke-width="1"/>
<rect x="750.83" y="188.57" width="2" height="1.91" fill="none" stroke="#ff4040" stroke-width="1"/>
<path d="M755.83 182.83V201.68" stroke="#00ffff" stroke-width="1"/>
<rect x="754.33" y="187.68" width="3" height="12.93" fill="#00ffff"/>
<path d="M760.83 197.91V209.23" stroke="#00ffff" stroke-width="1"/>
<rect x="759.33" y="202.22" width="3" height="3.77" fill="#00ffff"/>
<path d="M764.83 198.99V200.07" stroke="#ff4040" stroke-width="1"/>
<path d="M764.83 205.99V209.23" stroke="#ff4040" stroke-width="1"/>
<rect x="763.83" y="200.57" width="2" height="4.93" fill="none" stroke="#ff4040" stroke-width="1"/>
<path d="M768.83 174.96V193.60" stroke="#00ffff" stroke-width="1"/>
<rect x="767.33" y="176.90" width="3" height="16.16" fill="#00ffff"/>
<path d="M773.83 174.75V177.44" stroke="#ff4040" stroke-width="1"/>
<path d="M773.83 193.06V193.28" stroke="#ff4040" stroke-width="1"/>
<rect x="772.83" y="177.94" width="2" height="14.62" fill="none" stroke="#ff4040" stroke-width="1"/>
<path d="M777.83 159.45V168.82" stroke="#00ffff" stroke-width="1"/>
<rect x="776.33" y="160.53" width="3" height="4.53" fill="#00ffff"/>
<path d="M782.83 163.11V172.81" stroke="#00ffff" stroke-width="1"/>
<rect x="781.33" y="163.97" width="3" height="6.46" fill="#00ffff"/>
<path d="M786.83 170.44V187.14" stroke="#00ffff" stroke-width="1"/>
<rect x="785.33" y="170.44" width="3" height="9.70" fill="#00ffff"/>
<path d="M790.83 172.05V174.21" stroke="#ff4040" stroke-width="1"/>
<path d="M790.83 182.29V183.91" stroke="#ff4040" stroke-width="1"/>
<rect x="789.83" y="174.71" width="2" height="7.08" fill="none" stroke="#ff4040" stroke-width="1"/>
<path d="M795.83 162.68V163.97" stroke="#ff4040" stroke-width="1"/>
<path d="M795.83 172.05V172.38" stroke="#ff4040" stroke-width="1"/>
<rect x="794.83" y="164.47" width="2" height="7.08" fill="none" stroke="#ff4040" stroke-width="1"/>
<path d="M799.83 164.51V176.90" stroke="#00ffff" stroke-width="1"/>
<rect x="798.33" y="164.84" width="3" height="7.22" fill="#00ffff"/>
<path d="M804.83 141.13V141.89" stroke="#ff4040" stroke-width="1"/>
<path d="M804.83 154.81V159.87" stroke="#ff4040" stroke-width="1"/>
<rect x="803.83" y="142.39" width="2" height="11.93" fill="none" stroke="#ff4040" stroke-width="1"/>
<path d="M808.83 138.98V140.81" stroke="#ff4040" stroke-width="1"/>
<path d="M808.83 143.50V145.66" stroke="#ff4040" stroke-width="1"/>
<rect x="807.83" y="141.31" width="2" height="1.69" fill="none" stroke="#ff4040" stroke-width="1"/>
<path d="M812.83 141.89V157.72" stroke="#00ffff" stroke-width="1"/>
<rect x="811.33" y="142.64" width="3" height="12.18" fill="#00ffff"/>
<path d="M817.83 150.51V163.76" stroke="#00ffff" stroke-width="1"/>
<rect x="816.33" y="151.58" width="3" height="9.70" fill="#00ffff"/>
<path d="M821.83 149.97V152.66" stroke="#ff4040" stroke-width="1"/>
<path d="M821.83 159.66V160.20" stroke="#ff4040" stroke-width="1"/>
<rect x="820.83" y="153.16" width="2" height="6.00" fill="none" stroke="#ff4040" stroke-width="1"/>
<path d="M826.83 152.66V179.60" stroke="#00ffff" stroke-width="1"/>
<rect x="825.33" y="152.98" width="3" height="21.76" fill="#00ffff"/>
<path d="M830.83 166.67V167.74" stroke="#ff4040" stroke-width="1"/>
<path d="M830.83 174.75V177.44" stroke="#ff4040" stroke-width="1"/>
<rect x="829.83" y="168.24" width="2" height="6.00" fill="none" stroke="#ff4040" stroke-width="1"/>
<path d="M834.83 165.59V174.75" stroke="#00ffff" stroke-width="1"/>
<rect x="833.33" y="166.13" width="3" height="6.25" fill="#00ffff"/>
<path d="M839.83 161.28V170.44" stroke="#00ffff" stroke-width="1"/>
<rect x="838.33" y="166.67" width="3" height="2.15" fill="#00ffff"/>
<path d="M843.83 164.84V168.28" stroke="#ff4040" stroke-width="1"/>
<path d="M843.83 170.44V173.67" stroke="#ff4040" stroke-width="1"/>
<rect x="842.83" y="168.78" width="2" height="1.15" fill="none" stroke="#ff4040" stroke-width="1"/>
<path d="M848.83 149.97V152.98" stroke="#ff4040" stroke-width="1"/>
<path d="M848.83 171.52V178.84" stroke="#ff4040" stroke-width="1"/>
<rect x="847.83" y="153.48" width="2" height="17.53" fill="none" stroke="#ff4040" stroke-width="1"/>
<path d="M852.83 150.51V158.05" stroke="#00ffff" stroke-width="1"/>
<rect x="851.33" y="153.97" width="1.2" height="1" fill="#00ffff"/>
<path d="M856.83 145.66V151.91" stroke="#ff4040" stroke-width="1"/>
<path d="M856.83 155.35V155.89" stroke="#ff4040" stroke-width="1"/>
<rect x="855.83" y="152.41" width="2" height="2.45" fill="none" stroke="#ff4040" stroke-width="1"/>
<path d="M861.83 154.81V164.84" stroke="#00ffff" stroke-width="1"/>
<rect x="860.33" y="155.89" width="3" height="8.62" fill="#00ffff"/>
<path d="M865.83 150.83V155.89" stroke="#ff4040" stroke-width="1"/>
<path d="M865.83 161.28V161.82" stroke="#ff4040" stroke-width="1"/>
<rect x="864.83" y="156.39" width="2" height="4.39" fill="none" stroke="#ff4040" stroke-width="1"/>
<path d="M870.83 153.41V172.05" stroke="#00ffff" stroke-width="1"/>
<rect x="869.33" y="153.74" width="3" height="14.55" fill="#00ffff"/>
<path d="M874.83 159.12V159.66" stroke="#ff4040" stroke-width="1"/>
<path d="M874.83 167.74V168.82" stroke="#ff4040" stroke-width="1"/>
<rect x="873.83" y="160.16" width="2" height="7.08" fill="none" stroke="#ff4040" stroke-width="1"/>
<path d="M878.83 145.66V149.97" stroke="#ff4040" stroke-width="1"/>
<path d="M878.83 157.29V158.05" stroke="#ff4040" stroke-width="1"/>
<rect x="877.83" y="150.47" width="2" height="6.33" fill="none" stroke="#ff4040" stroke-width="1"/>
<path d="M883.83 142.42V142.96" stroke="#ff4040" stroke-width="1"/>
<path d="M883.83 150.51V151.91" stroke="#ff4040" stroke-width="1"/>
<rect x="882.83" y="143.46" width="2" height="6.54" fill="none" stroke="#ff4040" stroke-width="1"/>
<path d="M887.83 144.04V149.43" stroke="#00ffff" stroke-width="1"/>
<rect x="886.33" y="144.58" width="3" height="1.62" fill="#00ffff"/>
<path d="M892.83 142.96V143.50" stroke="#ff4040" stroke-width="1"/>
<path d="M892.83 146.20V147.60" stroke="#ff4040" stroke-width="1"/>
<rect x="891.83" y="144.00" width="2" height="1.69" fill="none" stroke="#ff4040" stroke-width="1"/>
<path d="M896.83 129.95V136.09" stroke="#ff4040" stroke-width="1"/>
<path d="M896.83 142.56V143.10" stroke="#ff4040" stroke-width="1"/>
<rect x="895.83" y="136.59" width="2" height="5.46" fill="none" stroke="#ff4040" stroke-width="1"/>
<path d="M900.83 136.63V141.80" stroke="#00ffff" stroke-width="1"/>
<rect x="899.33" y="137.71" width="3" height="3.45" fill="#00ffff"/>
<path d="M905.83 137.71V138.79" stroke="#ff4040" stroke-width="1"/>
<path d="M905.83 145.47V146.11" stroke="#ff4040" stroke-width="1"/>
<rect x="904.83" y="139.29" width="2" height="5.68" fill="none" stroke="#ff4040" stroke-width="1"/>
<path d="M909.83 157.67V158.80" stroke="#ff4040" stroke-width="1"/>
<rect x="908.83" y="148.98" width="2" height="8.18" fill="none" stroke="#ff4040" stroke-width="1"/>
<path d="M914.83 142.56V160.88" stroke="#00ffff" stroke-width="1"/>
<rect x="913.33" y="148.48" width="3" height="12.07" fill="#00ffff"/>
<path d="M918.83 168.96V173.27" stroke="#ff4040" stroke-width="1"/>
<path d="M918.83 177.04V187.81" stroke="#ff4040" stroke-width="1"/>
<rect x="917.83" y="173.77" width="2" height="2.77" fill="none" stroke="#ff4040" stroke-width="1"/>
<path d="M922.83 164.65V177.04" stroke="#00ffff" stroke-width="1"/>
<rect x="921.33" y="166.80" width="3" height="9.91" fill="#00ffff"/>
<path d="M927.83 171.65V171.97" stroke="#ff4040" stroke-width="1"/>
<rect x="926.83" y="166.44" width="2" height="4.71" fill="none" stroke="#ff4040" stroke-width="1"/>
<path d="M931.83 158.72V174.56" stroke="#00ffff" stroke-width="1"/>
<rect x="930.33" y="159.47" width="3" height="12.71" fill="#00ffff"/>
<path d="M936.83 172.27V173.80" stroke="#ff4040" stroke-width="1"/>
<rect x="935.83" y="157.60" width="2" height="14.16" fill="none" stroke="#ff4040" stroke-width="1"/>
<path d="M940.83 160.34V167.34" stroke="#00ffff" stroke-width="1"/>
<rect x="939.33" y="163.57" width="3" height="1.62" fill="#00ffff"/>
<path d="M944.83 150.64V159.04" stroke="#00ffff" stroke-width="1"/>
<rect x="943.33" y="153.33" width="3" height="5.39" fill="#00ffff"/>
<path d="M949.83 173.27V174.56" stroke="#ff4040" stroke-width="1"/>
<rect x="948.83" y="149.52" width="2" height="23.24" fill="none" stroke="#ff4040" stroke-width="1"/>
<path d="M953.83 135.02V142.24" stroke="#ff4040" stroke-width="1"/>
<path d="M953.83 149.56V149.78" stroke="#ff4040" stroke-width="1"/>
<rect x="952.83" y="142.74" width="2" height="6.33" fill="none" stroke="#ff4040" stroke-width="1"/>
<path d="M958.83 133.40V134.69" stroke="#ff4040" stroke-width="1"/>
<rect x="957.83" y="114.51" width="2" height="18.39" fill="none" stroke="#ff4040" stroke-width="1"/>
<path d="M962.83 109.91V121.76" stroke="#00ffff" stroke-width="1"/>
<rect x="961.33" y="112.93" width="3" height="6.68" fill="#00ffff"/>
<rect x="2.83" y="455.60" width="2" height="18.44" fill="none" stroke="#ff4040" stroke-width="1"/>
<rect x="6.83" y="449.67" width="2" height="24.36" fill="none" stroke="#ff4040" stroke-width="1"/>
<rect x="11.33" y="446.80" width="3" height="27.73" fill="#00ffff"/>
<rect x="15.83" y="452.47" width="2" height="21.56" fill="none" stroke="#ff4040" stroke-width="1"/>
<rect x="19.33" y="452.94" width="3" height="21.59" fill="#00ffff"/>
<rect x="24.33" y="454.88" width="3" height="19.65" fill="#00ffff"/>
<rect x="28.33" y="454.88" width="3" height="19.65" fill="#00ffff"/>
<rect x="33.33" y="443.78" width="3" height="30.75" fill="#00ffff"/>
<rect x="37.83" y="446.44" width="2" height="27.59" fill="none" stroke="#ff4040" stroke-width="1"/>
<rect x="41.33" y="451.11" width="3" height="23.42" fill="#00ffff"/>
<rect x="46.33" y="449.82" width="3" height="24.72" fill="#00ffff"/>
<rect x="50.83" y="448.92" width="2" height="25.12" fill="none" stroke="#ff4040" stroke-width="1"/>
<rect x="55.33" y="450.03" width="3" height="24.50" fill="#00ffff"/>
<rect x="59.83" y="446.44" width="2" height="27.59" fill="none" stroke="#ff4040" stroke-width="1"/>
<rect x="63.83" y="437.60" width="2" height="36.43" fill="none" stroke="#ff4040" stroke-width="1"/>
<rect x="68.33" y="442.81" width="3" height="31.72" fill="#00ffff"/>
<rect x="72.33" y="447.66" width="3" height="26.87" fill="#00ffff"/>
<rect x="77.83" y="448.38" width="2" height="25.65" fill="none" stroke="#ff4040" stroke-width="1"/>
<rect x="81.33" y="449.82" width="3" height="24.72" fill="#00ffff"/>
<rect x="85.33" y="452.94" width="3" height="21.59" fill="#00ffff"/>
<rect x="90.83" y="449.46" width="2" height="24.58" fill="none" stroke="#ff4040" stroke-width="1"/>
<rect x="94.83" y="449.46" width="2" height="24.58" fill="none" stroke="#ff4040" stroke-width="1"/>
<rect x="99.33" y="440.88" width="3" height="33.66" fill="#00ffff"/>
<rect x="103.83" y="436.53" width="2" height="37.51" fill="none" stroke="#ff4040" stroke-width="1"/>
<rect x="107.83" y="436.53" width="2" height="37.51" fill="none" stroke="#ff4040" stroke-width="1"/>
<rect x="112.83" y="446.76" width="2" height="27.27" fill="none" stroke="#ff4040" stroke-width="1"/>
<rect x="116.33" y="440.34" width="3" height="34.20" fill="#00ffff"/>
<rect x="121.33" y="445.72" width="3" height="28.81" fill="#00ffff"/>
<rect x="125.83" y="449.46" width="2" height="24.58" fill="none" stroke="#ff4040" stroke-width="1"/>
<rect x="129.83" y="439.54" width="2" height="34.49" fill="none" stroke="#ff4040" stroke-width="1"/>
<rect x="134.83" y="426.61" width="2" height="47.42" fill="none" stroke="#ff4040" stroke-width="1"/>
<rect x="138.33" y="432.79" width="3" height="41.74" fill="#00ffff"/>
<rect x="143.83" y="436.53" width="2" height="37.51" fill="none" stroke="#ff4040" stroke-width="1"/>
<rect x="147.33" y="434.95" width="3" height="39.58" fill="#00ffff"/>
<rect x="151.33" y="439.80" width="3" height="34.74" fill="#00ffff"/>
<rect x="156.33" y="438.18" width="3" height="36.35" fill="#00ffff"/>
<rect x="160.83" y="442.45" width="2" height="31.58" fill="none" stroke="#ff4040" stroke-width="1"/>
<rect x="165.33" y="444.86" width="3" height="29.67" fill="#00ffff"/>
<rect x="169.33" y="437.64" width="3" height="36.89" fill="#00ffff"/>
<rect x="173.33" y="449.82" width="3" height="24.72" fill="#00ffff"/>
<rect x="178.83" y="449.46" width="2" height="24.58" fill="none" stroke="#ff4040" stroke-width="1"/>
<rect x="182.83" y="443.53" width="2" height="30.50" fill="none" stroke="#ff4040" stroke-width="1"/>
<rect x="187.33" y="442.49" width="3" height="32.04" fill="#00ffff"/>
<rect x="191.83" y="447.30" width="2" height="26.73" fill="none" stroke="#ff4040" stroke-width="1"/>
<rect x="195.83" y="437.60" width="2" height="36.43" fill="none" stroke="#ff4040" stroke-width="1"/>
<rect x="200.83" y="442.78" width="2" height="31.26" fill="none" stroke="#ff4040" stroke-width="1"/>
<rect x="204.83" y="441.70" width="2" height="32.33" fill="none" stroke="#ff4040" stroke-width="1"/>
<rect x="209.33" y="443.57" width="3" height="30.96" fill="#00ffff"/>
<rect x="213.33" y="446.80" width="3" height="27.73" fill="#00ffff"/>
<rect x="217.33" y="448.74" width="3" height="25.79" fill="#00ffff"/>
<rect x="222.83" y="450.53" width="2" height="23.50" fill="none" stroke="#ff4040" stroke-width="1"/>
<rect x="226.33" y="448.74" width="3" height="25.79" fill="#00ffff"/>
<rect x="231.83" y="446.44" width="2" height="27.59" fill="none" stroke="#ff4040" stroke-width="1"/>
<rect x="235.33" y="445.94" width="3" height="28.59" fill="#00ffff"/>
<rect x="239.33" y="449.82" width="3" height="24.72" fill="#00ffff"/>
<rect x="244.83" y="451.40" width="2" height="22.64" fill="none" stroke="#ff4040" stroke-width="1"/>
<rect x="248.33" y="451.65" width="3" height="22.88" fill="#00ffff"/>
<rect x="253.83" y="452.47" width="2" height="21.56" fill="none" stroke="#ff4040" stroke-width="1"/>
<rect x="257.33" y="452.19" width="3" height="22.34" fill="#00ffff"/>
<rect x="261.83" y="453.23" width="2" height="20.81" fill="none" stroke="#ff4040" stroke-width="1"/>
<rect x="266.83" y="444.61" width="2" height="29.43" fill="none" stroke="#ff4040" stroke-width="1"/>
<rect x="270.33" y="450.57" width="3" height="23.96" fill="#00ffff"/>
<rect x="275.33" y="446.80" width="3" height="27.73" fill="#00ffff"/>
<rect x="279.83" y="451.07" width="2" height="22.96" fill="none" stroke="#ff4040" stroke-width="1"/>
<rect x="283.33" y="452.94" width="3" height="21.59" fill="#00ffff"/>
<rect x="288.33" y="448.09" width="3" height="26.44" fill="#00ffff"/>
<rect x="292.83" y="442.45" width="2" height="31.58" fill="none" stroke="#ff4040" stroke-width="1"/>
<rect x="297.83" y="439.54" width="2" height="34.49" fill="none" stroke="#ff4040" stroke-width="1"/>
<rect x="301.83" y="441.59" width="2" height="32.44" fill="none" stroke="#ff4040" stroke-width="1"/>
<rect x="305.33" y="436.89" width="3" height="37.64" fill="#00ffff"/>
<rect x="310.33" y="441.09" width="3" height="33.44" fill="#00ffff"/>
<rect x="314.83" y="442.45" width="2" height="31.58" fill="none" stroke="#ff4040" stroke-width="1"/>
<rect x="319.33" y="441.95" width="3" height="32.58" fill="#00ffff"/>
<rect x="323.83" y="443.53" width="2" height="30.50" fill="none" stroke="#ff4040" stroke-width="1"/>
<rect x="327.83" y="443.53" width="2" height="30.50" fill="none" stroke="#ff4040" stroke-width="1"/>
<rect x="332.33" y="444.86" width="3" height="29.67" fill="#00ffff"/>
<rect x="336.83" y="446.44" width="2" height="27.59" fill="none" stroke="#ff4040" stroke-width="1"/>
<rect x="341.83" y="445.69" width="2" height="28.35" fill="none" stroke="#ff4040" stroke-width="1"/>
<rect x="345.33" y="446.80" width="3" height="27.73" fill="#00ffff"/>
<rect x="349.83" y="451.61" width="2" height="22.42" fill="none" stroke="#ff4040" stroke-width="1"/>
<rect x="354.83" y="447.52" width="2" height="26.52" fill="none" stroke="#ff4040" stroke-width="1"/>
<rect x="358.33" y="445.94" width="3" height="28.59" fill="#00ffff"/>
<rect x="363.33" y="445.19" width="3" height="29.35" fill="#00ffff"/>
<rect x="367.33" y="444.97" width="3" height="29.56" fill="#00ffff"/>
<rect x="371.33" y="450.90" width="3" height="23.64" fill="#00ffff"/>
<rect x="376.33" y="444.97" width="3" height="29.56" fill="#00ffff"/>
<rect x="380.83" y="448.38" width="2" height="25.65" fill="none" stroke="#ff4040" stroke-width="1"/>
<rect x="385.83" y="445.69" width="2" height="28.35" fill="none" stroke="#ff4040" stroke-width="1"/>
<rect x="389.83" y="441.70" width="2" height="32.33" fill="none" stroke="#ff4040" stroke-width="1"/>
<rect x="393.83" y="434.70" width="2" height="39.34" fill="none" stroke="#ff4040" stroke-width="1"/>
<rect x="398.83" y="437.60" width="2" height="36.43" fill="none" stroke="#ff4040" stroke-width="1"/>
<rect x="402.33" y="436.03" width="3" height="38.51" fill="#00ffff"/>
<rect x="407.83" y="424.68" width="2" height="49.36" fill="none" stroke="#ff4040" stroke-width="1"/>
<rect x="411.33" y="416.96" width="3" height="57.58" fill="#00ffff"/>
<rect x="415.83" y="427.91" width="2" height="46.13" fill="none" stroke="#ff4040" stroke-width="1"/>
<rect x="420.83" y="415.52" width="2" height="58.52" fill="none" stroke="#ff4040" stroke-width="1"/>
<rect x="424.83" y="420.90" width="2" height="53.13" fill="none" stroke="#ff4040" stroke-width="1"/>
<rect x="429.83" y="394.51" width="2" height="79.53" fill="none" stroke="#ff4040" stroke-width="1"/>
<rect x="433.33" y="388.94" width="3" height="85.59" fill="#00ffff"/>
<rect x="437.33" y="406.94" width="3" height="67.60" fill="#00ffff"/>
<rect x="442.83" y="420.58" width="2" height="53.45" fill="none" stroke="#ff4040" stroke-width="1"/>
<rect x="446.83" y="422.74" width="2" height="51.30" fill="none" stroke="#ff4040" stroke-width="1"/>
<rect x="451.83" y="397.52" width="2" height="76.51" fill="none" stroke="#ff4040" stroke-width="1"/>
<rect x="455.83" y="396.66" width="2" height="77.37" fill="none" stroke="#ff4040" stroke-width="1"/>
<rect x="459.83" y="385.58" width="2" height="88.45" fill="none" stroke="#ff4040" stroke-width="1"/>
<rect x="464.33" y="384.01" width="3" height="90.53" fill="#00ffff"/>
<rect x="468.83" y="381.60" width="2" height="92.44" fill="none" stroke="#ff4040" stroke-width="1"/>
<rect x="473.83" y="393.34" width="2" height="80.69" fill="none" stroke="#ff4040" stroke-width="1"/>
<rect x="477.83" y="378.58" width="2" height="95.45" fill="none" stroke="#ff4040" stroke-width="1"/>
<rect x="481.33" y="390.15" width="3" height="84.39" fill="#00ffff"/>
<rect x="486.33" y="409.00" width="3" height="65.53" fill="#00ffff"/>
<rect x="490.33" y="419.89" width="3" height="54.65" fill="#00ffff"/>
<rect x="495.83" y="421.68" width="2" height="52.35" fill="none" stroke="#ff4040" stroke-width="1"/>
<rect x="499.83" y="420.60" width="2" height="53.43" fill="none" stroke="#ff4040" stroke-width="1"/>
<rect x="503.33" y="419.02" width="3" height="55.51" fill="#00ffff"/>
<rect x="508.83" y="409.50" width="2" height="64.53" fill="none" stroke="#ff4040" stroke-width="1"/>
<rect x="512.33" y="419.02" width="3" height="55.51" fill="#00ffff"/>
<rect x="517.83" y="418.45" width="2" height="55.59" fill="none" stroke="#ff4040" stroke-width="1"/>
<rect x="521.33" y="416.55" width="3" height="57.99" fill="#00ffff"/>
<rect x="525.33" y="424.95" width="3" height="49.58" fill="#00ffff"/>
<rect x="530.33" y="426.03" width="3" height="48.51" fill="#00ffff"/>
<rect x="534.83" y="421.14" width="2" height="52.89" fill="none" stroke="#ff4040" stroke-width="1"/>
<rect x="539.83" y="407.67" width="2" height="66.36" fill="none" stroke="#ff4040" stroke-width="1"/>
<rect x="543.33" y="402.00" width="3" height="72.53" fill="#00ffff"/>
<rect x="547.83" y="413.60" width="2" height="60.44" fill="none" stroke="#ff4040" stroke-width="1"/>
<rect x="552.33" y="410.40" width="3" height="64.13" fill="#00ffff"/>
<rect x="556.33" y="408.79" width="3" height="65.75" fill="#00ffff"/>
<rect x="561.83" y="420.28" width="2" height="53.76" fill="none" stroke="#ff4040" stroke-width="1"/>
<rect x="565.33" y="410.08" width="3" height="64.45" fill="#00ffff"/>
<rect x="569.33" y="416.87" width="3" height="57.66" fill="#00ffff"/>
<rect x="574.83" y="428.68" width="2" height="45.35" fill="none" stroke="#ff4040" stroke-width="1"/>
<rect x="578.33" y="424.95" width="3" height="49.58" fill="#00ffff"/>
<rect x="583.83" y="421.68" width="2" height="52.35" fill="none" stroke="#ff4040" stroke-width="1"/>
<rect x="587.83" y="415.75" width="2" height="58.28" fill="none" stroke="#ff4040" stroke-width="1"/>
<rect x="591.33" y="419.02" width="3" height="55.51" fill="#00ffff"/>
<rect x="596.83" y="421.68" width="2" height="52.35" fill="none" stroke="#ff4040" stroke-width="1"/>
<rect x="600.33" y="417.08" width="3" height="57.45" fill="#00ffff"/>
<rect x="605.33" y="422.79" width="3" height="51.74" fill="#00ffff"/>
<rect x="609.83" y="426.53" width="2" height="47.51" fill="none" stroke="#ff4040" stroke-width="1"/>
<rect x="613.33" y="417.17" width="3" height="57.36" fill="#00ffff"/>
<rect x="618.33" y="429.02" width="3" height="45.51" fill="#00ffff"/>
<rect x="622.33" y="424.18" width="3" height="50.36" fill="#00ffff"/>
<rect x="627.83" y="437.60" width="2" height="36.43" fill="none" stroke="#ff4040" stroke-width="1"/>
<rect x="631.33" y="429.02" width="3" height="45.51" fill="#00ffff"/>
<rect x="635.33" y="433.87" width="3" height="40.66" fill="#00ffff"/>
<rect x="640.83" y="436.53" width="2" height="37.51" fill="none" stroke="#ff4040" stroke-width="1"/>
<rect x="644.33" y="439.04" width="3" height="35.49" fill="#00ffff"/>
<rect x="649.83" y="425.75" width="2" height="48.28" fill="none" stroke="#ff4040" stroke-width="1"/>
<rect x="653.33" y="435.81" width="3" height="38.72" fill="#00ffff"/>
<rect x="657.83" y="437.60" width="2" height="36.43" fill="none" stroke="#ff4040" stroke-width="1"/>
<rect x="662.83" y="434.91" width="2" height="39.12" fill="none" stroke="#ff4040" stroke-width="1"/>
<rect x="666.83" y="434.91" width="2" height="39.12" fill="none" stroke="#ff4040" stroke-width="1"/>
<rect x="671.33" y="427.08" width="3" height="47.45" fill="#00ffff"/>
<rect x="675.33" y="434.41" width="3" height="40.12" fill="#00ffff"/>
<rect x="679.83" y="435.45" width="2" height="38.58" fill="none" stroke="#ff4040" stroke-width="1"/>
<rect x="684.33" y="432.26" width="3" height="42.28" fill="#00ffff"/>
<rect x="688.33" y="430.10" width="3" height="44.43" fill="#00ffff"/>
<rect x="693.33" y="437.97" width="3" height="36.57" fill="#00ffff"/>
<rect x="697.83" y="433.62" width="2" height="40.42" fill="none" stroke="#ff4040" stroke-width="1"/>
<rect x="701.83" y="432.76" width="2" height="41.28" fill="none" stroke="#ff4040" stroke-width="1"/>
<rect x="706.83" y="437.60" width="2" height="36.43" fill="none" stroke="#ff4040" stroke-width="1"/>
<rect x="710.33" y="435.49" width="3" height="39.05" fill="#00ffff"/>
<rect x="715.33" y="437.97" width="3" height="36.57" fill="#00ffff"/>
<rect x="719.33" y="434.95" width="3" height="39.58" fill="#00ffff"/>
<rect x="723.33" y="439.04" width="3" height="35.49" fill="#00ffff"/>
<rect x="728.33" y="439.04" width="3" height="35.49" fill="#00ffff"/>
<rect x="732.33" y="438.72" width="3" height="35.81" fill="#00ffff"/>
<rect x="737.83" y="444.61" width="2" height="29.43" fill="none" stroke="#ff4040" stroke-width="1"/>
<rect x="741.83" y="428.66" width="2" height="45.37" fill="none" stroke="#ff4040" stroke-width="1"/>
<rect x="745.33" y="432.04" width="3" height="42.49" fill="#00ffff"/>
<rect x="750.83" y="432.76" width="2" height="41.28" fill="none" stroke="#ff4040" stroke-width="1"/>
<rect x="754.33" y="433.12" width="3" height="41.42" fill="#00ffff"/>
<rect x="759.33" y="441.95" width="3" height="32.58" fill="#00ffff"/>
<rect x="763.83" y="444.61" width="2" height="29.43" fill="none" stroke="#ff4040" stroke-width="1"/>
<rect x="767.33" y="431.18" width="3" height="43.35" fill="#00ffff"/>
<rect x="772.83" y="428.66" width="2" height="45.37" fill="none" stroke="#ff4040" stroke-width="1"/>
<rect x="776.33" y="417.17" width="3" height="57.36" fill="#00ffff"/>
<rect x="781.33" y="425.25" width="3" height="49.28" fill="#00ffff"/>
<rect x="785.33" y="427.95" width="3" height="46.59" fill="#00ffff"/>
<rect x="789.83" y="434.70" width="2" height="39.34" fill="none" stroke="#ff4040" stroke-width="1"/>
<rect x="794.83" y="428.66" width="2" height="45.37" fill="none" stroke="#ff4040" stroke-width="1"/>
<rect x="798.33" y="432.04" width="3" height="42.49" fill="#00ffff"/>
<rect x="803.83" y="421.66" width="2" height="52.38" fill="none" stroke="#ff4040" stroke-width="1"/>
<rect x="807.83" y="429.52" width="2" height="44.51" fill="none" stroke="#ff4040" stroke-width="1"/>
<rect x="811.33" y="433.87" width="3" height="40.66" fill="#00ffff"/>
<rect x="816.33" y="437.10" width="3" height="37.43" fill="#00ffff"/>
<rect x="820.83" y="442.67" width="2" height="31.36" fill="none" stroke="#ff4040" stroke-width="1"/>
<rect x="825.33" y="434.20" width="3" height="40.34" fill="#00ffff"/>
<rect x="829.83" y="445.69" width="2" height="28.35" fill="none" stroke="#ff4040" stroke-width="1"/>
<rect x="833.33" y="444.97" width="3" height="29.56" fill="#00ffff"/>
<rect x="838.33" y="444.11" width="3" height="30.43" fill="#00ffff"/>
<rect x="842.83" y="445.69" width="2" height="28.35" fill="none" stroke="#ff4040" stroke-width="1"/>
<rect x="847.83" y="434.70" width="2" height="39.34" fill="none" stroke="#ff4040" stroke-width="1"/>
<rect x="851.33" y="442.49" width="3" height="32.04" fill="#00ffff"/>
<rect x="855.83" y="439.76" width="2" height="34.27" fill="none" stroke="#ff4040" stroke-width="1"/>
<rect x="860.33" y="441.95" width="3" height="32.58" fill="#00ffff"/>
<rect x="864.83" y="444.82" width="2" height="29.21" fill="none" stroke="#ff4040" stroke-width="1"/>
<rect x="869.33" y="443.03" width="3" height="31.50" fill="#00ffff"/>
<rect x="873.83" y="447.52" width="2" height="26.52" fill="none" stroke="#ff4040" stroke-width="1"/>
<rect x="877.83" y="439.54" width="2" height="34.49" fill="none" stroke="#ff4040" stroke-width="1"/>
<rect x="882.83" y="443.53" width="2" height="30.50" fill="none" stroke="#ff4040" stroke-width="1"/>
<rect x="886.33" y="445.94" width="3" height="28.59" fill="#00ffff"/>
<rect x="891.83" y="446.76" width="2" height="27.27" fill="none" stroke="#ff4040" stroke-width="1"/>
<rect x="895.83" y="444.61" width="2" height="29.43" fill="none" stroke="#ff4040" stroke-width="1"/>
<rect x="899.33" y="445.94" width="3" height="28.59" fill="#00ffff"/>
<rect x="904.83" y="446.44" width="2" height="27.59" fill="none" stroke="#ff4040" stroke-width="1"/>
<rect x="908.83" y="440.62" width="2" height="33.41" fill="none" stroke="#ff4040" stroke-width="1"/>
<rect x="913.33" y="444.65" width="3" height="29.89" fill="#00ffff"/>
<rect x="917.83" y="433.62" width="2" height="40.42" fill="none" stroke="#ff4040" stroke-width="1"/>
<rect x="921.33" y="444.97" width="3" height="29.56" fill="#00ffff"/>
<rect x="926.83" y="447.52" width="2" height="26.52" fill="none" stroke="#ff4040" stroke-width="1"/>
<rect x="930.33" y="444.11" width="3" height="30.43" fill="#00ffff"/>
<rect x="935.83" y="445.69" width="2" height="28.35" fill="none" stroke="#ff4040" stroke-width="1"/>
<rect x="939.33" y="446.80" width="3" height="27.73" fill="#00ffff"/>
<rect x="943.33" y="442.17" width="3" height="32.36" fill="#00ffff"/>
<rect x="948.83" y="440.62" width="2" height="33.41" fill="none" stroke="#ff4040" stroke-width="1"/>
<rect x="952.83" y="438.68" width="2" height="35.35" fill="none" stroke="#ff4040" stroke-width="1"/>
<rect x="957.83" y="425.54" width="2" height="48.50" fill="none" stroke="#ff4040" stroke-width="1"/>
<rect x="961.33" y="427.95" width="3" height="46.59" fill="#00ffff"/>
<line x1="774.40" y1="197.47" x2="978.85" y2="197.47" stroke="#8e8e8e" stroke-width="1.0"/>
<path d="M830.83 199.47L854.43 199.47L858.83 200.47L898.83 200.47L901.83 201.40L925.83 201.40L929.03 202.40L935.83 202.40L938.83 201.27L960.03 201.27L962.83 200.20" fill="none" stroke="#00f000" stroke-width="1.0" stroke-linejoin="round" stroke-linecap="round"/>
<line x1="1.47" y1="108.20" x2="978.33" y2="108.20" stroke="#ffff00" stroke-width="1.1"/>
<line x1="1.47" y1="313.40" x2="978.47" y2="103.27" stroke="#ffff00" stroke-width="1.1"/>
<line x1="169.07" y1="346.47" x2="978.47" y2="173.27" stroke="#ffff00" stroke-width="1.1"/>
<path d="M3.83 221.01L7.83 222.84L12.83 225.00L16.83 225.86L20.83 228.88L25.83 231.25L29.83 234.26L34.83 238.25L38.83 242.02L42.83 246.33L47.83 250.10L51.83 254.95L56.83 259.80L60.83 264.11L64.83 265.19L69.83 266.80L73.83 268.96L78.83 272.73L82.83 275.96L86.83 279.12L91.83 282.87L95.83 286.64L100.83 289.61L104.83 291.26L108.83 291.37L113.83 291.29L117.83 291.32L122.83 289.60L126.83 288.19L130.83 285.15L135.83 280.65L139.83 276.69L144.83 271.54L148.83 267.58L152.83 265.52L157.83 263.85L161.83 261.77L166.83 259.72L170.83 258.58L174.83 257.16L179.83 255.74L183.83 254.04L188.83 253.27L192.83 253.72L196.83 253.11L201.83 252.37L205.83 251.42L210.83 251.02L214.83 250.55L218.83 251.61L223.83 253.01L227.83 254.22L232.83 255.69L236.83 258.10L240.83 260.54L245.83 262.14L249.83 264.61L254.83 266.56L258.83 267.56L262.83 268.13L267.83 269.18L271.83 271.18L276.83 272.89L280.83 274.94L284.83 278.63L289.83 282.85L293.83 286.41L298.83 288.42L302.83 290.40L306.83 292.10L311.83 294.09L315.83 296.10L320.83 298.72L324.83 299.87L328.83 300.63L333.83 301.67L337.83 301.61L342.83 301.69L346.83 302.07L350.83 302.85L355.83 303.07L359.83 303.08L364.83 302.74L368.83 302.96L372.83 302.90L377.83 302.56L381.83 301.87L386.83 300.62L390.83 298.87L394.83 296.41L399.83 293.81L403.83 291.34L408.83 287.06L412.83 283.44L416.83 279.75L421.83 275.63L425.83 270.83L430.83 264.14L434.83 256.60L438.83 249.68L443.83 242.75L447.83 234.88L452.83 225.69L456.83 214.46L460.83 202.39L465.83 190.38L469.83 180.53L474.83 169.92L478.83 158.56L482.83 149.89L487.83 142.42L491.83 134.54L496.83 126.99L500.83 119.19L504.83 112.09L509.83 104.58L513.83 98.43L518.83 94.98L522.83 92.80L526.83 89.80L531.83 87.45L535.83 84.25L540.83 80.58L544.83 78.62L548.83 76.87L553.83 74.72L557.83 72.48L562.83 72.15L566.83 73.36L570.83 73.39L575.83 72.24L579.83 72.09L584.83 72.43L588.83 72.20L592.83 71.75L597.83 71.47L601.83 71.39L606.83 71.04L610.83 68.82L614.83 67.99L619.83 67.17L623.83 69.14L628.83 72.70L632.83 79.32L636.83 86.13L641.83 93.73L645.83 100.72L650.83 106.05L654.83 111.82L658.83 116.89L663.83 121.18L667.83 124.64L672.83 130.12L676.83 136.50L680.83 141.96L685.83 147.62L689.83 153.99L694.83 160.12L698.83 165.99L702.83 170.27L707.83 174.44L711.83 177.80L716.83 181.40L720.83 182.08L724.83 183.31L729.83 184.09L733.83 185.43L738.83 188.07L742.83 188.46L746.83 189.00L751.83 190.28L755.83 192.31L760.83 193.25L764.83 193.62L768.83 194.24L773.83 194.14L777.83 192.25L782.83 190.49L786.83 190.38L790.83 190.33L795.83 189.57L799.83 188.95L804.83 186.74L808.83 184.15L812.83 181.91L817.83 179.86L821.83 176.49L826.83 174.59L830.83 173.77L834.83 172.87L839.83 171.91L843.83 170.29L848.83 167.64L852.83 165.40L856.83 163.34L861.83 162.69L865.83 162.23L870.83 162.13L874.83 161.10L878.83 159.89L883.83 158.84L887.83 157.55L892.83 157.63L896.83 157.39L900.83 156.71L905.83 155.58L909.83 155.38L914.83 154.67L918.83 154.94L922.83 155.16L927.83 155.01L931.83 155.21L936.83 155.42L940.83 155.92L944.83 156.26L949.83 155.48L953.83 154.80L958.83 152.09L962.83 150.08" fill="none" stroke="#ff00ff" stroke-width="0.75" stroke-linejoin="round" stroke-linecap="round"/>
<path d="M3.83 236.42L7.83 235.34L12.83 233.94L16.83 233.19L20.83 234.26L25.83 234.48L29.83 235.56L34.83 241.48L38.83 247.41L42.83 256.29L47.83 265.99L51.83 275.78L56.83 285.82L60.83 294.13L64.83 296.16L69.83 298.98L73.83 302.33L78.83 301.74L82.83 301.95L86.83 301.95L91.83 299.75L95.83 297.49L100.83 293.39L104.83 288.39L108.83 286.57L113.83 283.59L117.83 280.32L122.83 277.46L126.83 274.43L130.83 268.34L135.83 261.54L139.83 255.88L144.83 249.69L148.83 246.76L152.83 244.48L157.83 244.11L161.83 243.23L166.83 241.99L170.83 242.72L174.83 245.98L179.83 249.93L183.83 252.19L188.83 256.85L192.83 260.67L196.83 261.75L201.83 260.62L205.83 259.62L210.83 260.05L214.83 258.37L218.83 257.25L223.83 256.09L227.83 256.26L232.83 254.53L236.83 255.53L240.83 259.33L245.83 263.67L249.83 269.61L254.83 273.07L258.83 276.74L262.83 279.01L267.83 282.26L271.83 286.10L276.83 291.25L280.83 294.34L284.83 297.93L289.83 302.03L293.83 303.21L298.83 303.77L302.83 304.06L306.83 305.19L311.83 305.92L315.83 306.11L320.83 306.18L324.83 305.40L328.83 303.33L333.83 301.31L337.83 300.01L342.83 299.60L346.83 300.09L350.83 300.52L355.83 300.22L359.83 300.05L364.83 299.30L368.83 300.53L372.83 302.47L377.83 303.81L381.83 303.73L386.83 301.65L390.83 297.66L394.83 292.30L399.83 287.41L403.83 282.62L408.83 274.81L412.83 266.34L416.83 257.03L421.83 247.45L425.83 237.94L430.83 226.64L434.83 215.54L438.83 207.06L443.83 198.09L447.83 187.15L452.83 176.56L456.83 162.58L460.83 147.74L465.83 133.31L469.83 123.11L474.83 113.20L478.83 101.58L482.83 92.72L487.83 86.76L491.83 81.94L496.83 77.42L500.83 75.80L504.83 76.45L509.83 75.85L513.83 73.75L518.83 76.75L522.83 84.02L526.83 86.88L531.83 88.14L535.83 86.55L540.83 83.75L544.83 81.45L548.83 77.30L553.83 73.58L557.83 71.21L562.83 67.55L566.83 62.70L570.83 59.90L575.83 56.34L579.83 57.64L584.83 61.12L588.83 62.95L592.83 66.21L597.83 69.37L601.83 71.58L606.83 74.54L610.83 74.95L614.83 76.08L619.83 78.00L623.83 80.64L628.83 84.28L632.83 95.69L636.83 106.05L641.83 118.10L645.83 129.87L650.83 137.57L654.83 148.69L658.83 157.70L663.83 164.37L667.83 168.64L672.83 175.96L676.83 177.30L680.83 177.87L685.83 177.14L689.83 178.11L694.83 182.68L698.83 183.29L702.83 182.84L707.83 184.51L711.83 186.96L716.83 186.85L720.83 186.85L724.83 188.74L729.83 191.03L733.83 192.75L738.83 193.47L742.83 193.63L746.83 195.16L751.83 196.05L755.83 197.66L760.83 199.65L764.83 200.39L768.83 199.74L773.83 197.26L777.83 191.75L782.83 187.51L786.83 187.13L790.83 185.51L795.83 183.10L799.83 180.24L804.83 173.83L808.83 167.91L812.83 164.08L817.83 162.46L821.83 161.23L826.83 161.66L830.83 160.42L834.83 160.23L839.83 160.72L843.83 160.34L848.83 161.45L852.83 162.88L856.83 162.59L861.83 162.92L865.83 163.24L870.83 162.59L874.83 161.79L878.83 159.54L883.83 156.96L887.83 154.75L892.83 153.80L896.83 151.90L900.83 150.82L905.83 148.25L909.83 147.51L914.83 146.74L918.83 148.10L922.83 150.77L927.83 153.07L931.83 155.67L936.83 157.03L940.83 159.94L944.83 161.69L949.83 162.72L953.83 162.09L958.83 157.44L962.83 152.07" fill="none" stroke="#ffff00" stroke-width="0.75" stroke-linejoin="round" stroke-linecap="round"/>
<path d="M3.83 232.32L7.83 227.80L12.83 226.40L16.83 225.64L20.83 229.59L25.83 235.77L29.83 243.38L34.83 257.57L38.83 272.35L42.83 282.99L47.83 296.22L51.83 308.19L56.83 314.07L60.83 315.91L64.83 309.33L69.83 301.75L73.83 296.47L78.83 289.40L82.83 288.00L86.83 294.57L91.83 297.76L95.83 298.52L100.83 297.37L104.83 288.78L108.83 278.57L113.83 269.42L117.83 262.12L122.83 257.54L126.83 260.08L130.83 258.10L135.83 253.67L139.83 249.64L144.83 241.84L148.83 233.44L152.83 230.85L157.83 234.56L161.83 236.82L166.83 242.14L170.83 252.01L174.83 261.10L179.83 265.31L183.83 267.57L188.83 271.56L192.83 269.34L196.83 262.40L201.83 255.93L205.83 251.67L210.83 248.54L214.83 247.40L218.83 252.10L223.83 256.26L227.83 260.85L232.83 260.52L236.83 263.67L240.83 266.56L245.83 271.08L249.83 278.37L254.83 285.61L258.83 289.82L262.83 291.46L267.83 293.44L271.83 293.83L276.83 296.89L280.83 298.87L284.83 304.41L289.83 310.62L293.83 312.60L298.83 310.66L302.83 309.25L306.83 305.97L311.83 301.23L315.83 299.61L320.83 301.70L324.83 301.55L328.83 300.69L333.83 301.38L337.83 300.41L342.83 297.50L346.83 298.62L350.83 300.34L355.83 299.05L359.83 299.70L364.83 301.10L368.83 302.44L372.83 304.59L377.83 308.58L381.83 307.76L386.83 302.20L390.83 292.89L394.83 280.02L399.83 266.24L403.83 257.48L408.83 247.43L412.83 239.80L416.83 234.04L421.83 228.65L425.83 218.40L430.83 205.85L434.83 191.29L438.83 180.07L443.83 167.52L447.83 155.89L452.83 147.28L456.83 133.87L460.83 115.41L465.83 99.10L469.83 90.33L474.83 79.13L478.83 69.28L482.83 70.04L487.83 74.41L491.83 73.55L496.83 75.70L500.83 82.32L504.83 82.86L509.83 77.30L513.83 73.96L518.83 77.79L522.83 85.72L526.83 90.90L531.83 98.98L535.83 99.15L540.83 89.71L544.83 77.17L548.83 63.70L553.83 48.19L557.83 43.27L562.83 45.38L566.83 48.23L570.83 56.09L575.83 64.50L579.83 72.00L584.83 76.85L588.83 77.66L592.83 76.33L597.83 74.24L601.83 71.16L606.83 72.23L610.83 72.23L614.83 75.83L619.83 81.76L623.83 90.13L628.83 96.33L632.83 119.15L636.83 136.26L641.83 154.44L645.83 169.61L650.83 178.80L654.83 178.22L658.83 179.15L663.83 174.30L667.83 167.68L672.83 173.11L676.83 176.39L680.83 176.60L685.83 179.99L689.83 188.54L694.83 192.25L698.83 190.20L702.83 189.08L707.83 189.04L711.83 185.37L716.83 181.45L720.83 183.50L724.83 188.39L729.83 193.02L733.83 200.13L738.83 205.48L742.83 203.75L746.83 201.92L751.83 199.08L755.83 195.19L760.83 193.82L764.83 197.03L768.83 197.56L773.83 195.43L777.83 188.32L782.83 181.21L786.83 177.23L790.83 173.45L795.83 170.76L799.83 172.16L804.83 166.45L808.83 158.59L812.83 154.71L817.83 154.17L821.83 150.29L826.83 156.86L830.83 162.25L834.83 165.76L839.83 167.27L843.83 170.39L848.83 166.04L852.83 163.52L856.83 159.43L861.83 158.56L865.83 156.09L870.83 159.15L874.83 160.05L878.83 159.66L883.83 155.35L887.83 153.41L892.83 148.46L896.83 143.74L900.83 141.98L905.83 141.15L909.83 141.61L914.83 145.02L918.83 152.45L922.83 159.56L927.83 164.99L931.83 169.73L936.83 169.04L940.83 167.43L944.83 163.83L949.83 160.44L953.83 154.45L958.83 145.83L962.83 136.72" fill="none" stroke="#ffffff" stroke-width="0.75" stroke-linejoin="round" stroke-linecap="round"/>
<path d="M3.83 450.90L7.83 450.68L12.83 450.57L16.83 450.57L20.83 451.20L25.83 451.15L29.83 452.30L34.83 451.69L38.83 450.49L42.83 450.12L47.83 449.11L51.83 447.81L56.83 449.06L60.83 449.06L64.83 446.26L69.83 444.86L73.83 444.71L78.83 444.28L82.83 445.06L86.83 448.22L91.83 449.45L95.83 449.71L100.83 448.31L104.83 445.55L108.83 442.17L113.83 441.63L117.83 439.91L122.83 440.88L126.83 443.46L130.83 444.06L135.83 440.04L139.83 438.53L144.83 436.59L148.83 433.79L152.83 433.94L157.83 436.35L161.83 438.18L166.83 439.95L170.83 440.49L174.83 442.49L179.83 444.65L183.83 444.86L188.83 444.39L192.83 446.22L196.83 443.68L201.83 442.34L205.83 441.97L210.83 442.19L214.83 442.19L218.83 444.52L223.83 446.07L227.83 447.58L232.83 448.05L236.83 447.88L240.83 448.09L245.83 448.27L249.83 448.85L254.83 450.06L258.83 451.31L262.83 451.89L267.83 450.53L271.83 450.31L276.83 449.28L280.83 448.96L284.83 449.00L289.83 449.80L293.83 448.07L298.83 446.52L302.83 444.62L306.83 441.41L311.83 440.01L315.83 440.01L320.83 440.60L324.83 440.98L328.83 442.21L333.83 442.97L337.83 443.76L342.83 444.41L346.83 445.16L350.83 446.78L355.83 447.21L359.83 447.21L364.83 447.21L368.83 446.84L372.83 446.80L377.83 446.39L381.83 446.78L386.83 446.78L390.83 446.03L394.83 442.69L399.83 441.11L403.83 438.74L408.83 434.54L412.83 429.69L416.83 428.33L421.83 423.92L425.83 420.79L430.83 414.76L434.83 409.16L438.83 405.06L443.83 406.07L447.83 406.44L452.83 407.04L456.83 408.49L460.83 404.12L465.83 396.90L469.83 388.67L474.83 387.84L478.83 384.22L482.83 385.24L487.83 390.23L491.83 397.99L496.83 403.66L500.83 412.06L504.83 417.84L509.83 417.84L513.83 417.67L518.83 417.02L522.83 416.31L526.83 417.49L531.83 420.90L535.83 421.22L540.83 419.07L544.83 416.16L548.83 413.79L553.83 410.66L557.83 408.29L562.83 410.81L566.83 412.43L570.83 413.18L575.83 416.74L579.83 419.97L584.83 420.25L588.83 421.29L592.83 421.72L597.83 420.32L601.83 418.74L606.83 419.07L610.83 421.22L614.83 420.85L619.83 422.42L623.83 423.84L628.83 426.70L632.83 427.30L636.83 430.64L641.83 432.04L645.83 435.01L650.83 432.64L654.83 434.00L658.83 434.65L663.83 434.32L667.83 433.40L672.83 433.76L676.83 433.48L680.83 433.05L685.83 432.62L689.83 431.76L694.83 433.94L698.83 433.68L702.83 433.14L707.83 434.11L711.83 435.19L716.83 435.19L720.83 435.55L724.83 436.91L729.83 437.30L733.83 437.94L738.83 439.17L742.83 437.82L746.83 436.41L751.83 435.06L755.83 433.94L760.83 433.51L764.83 436.69L768.83 436.52L773.83 435.70L777.83 432.51L782.83 429.17L786.83 425.94L790.83 426.55L795.83 426.55L799.83 429.52L804.83 428.70L808.83 428.92L812.83 428.85L817.83 430.64L821.83 432.67L826.83 435.27L830.83 438.51L834.83 440.72L839.83 442.13L843.83 442.73L848.83 442.73L852.83 442.19L856.83 441.05L861.83 440.62L865.83 440.44L870.83 442.21L874.83 443.12L878.83 443.07L883.83 443.29L887.83 443.61L892.83 444.26L896.83 443.68L900.83 445.06L905.83 445.64L909.83 444.47L914.83 444.15L918.83 441.95L922.83 441.76L927.83 441.97L931.83 442.77L936.83 442.88L940.83 445.62L944.83 445.06L949.83 443.68L953.83 442.49L958.83 438.46L962.83 434.69" fill="none" stroke="#ffffff" stroke-width="0.75" stroke-linejoin="round" stroke-linecap="round"/>
<path d="M3.83 451.11L7.83 450.79L12.83 450.57L16.83 450.57L20.83 450.57L25.83 450.57L29.83 450.79L34.83 451.33L38.83 451.33L42.83 450.66L47.83 450.13L51.83 450.06L56.83 450.38L60.83 449.78L64.83 448.19L69.83 446.98L73.83 446.26L78.83 446.67L82.83 447.06L86.83 447.24L91.83 447.16L95.83 447.21L100.83 446.29L104.83 445.30L108.83 445.20L113.83 445.54L117.83 444.81L122.83 444.59L126.83 444.51L130.83 443.12L135.83 440.83L139.83 439.22L144.83 438.73L148.83 438.62L152.83 439.00L157.83 438.19L161.83 438.35L166.83 438.27L170.83 437.14L174.83 438.21L179.83 440.50L183.83 441.52L188.83 442.17L192.83 443.35L196.83 443.08L201.83 443.49L205.83 443.42L210.83 443.29L214.83 444.20L218.83 444.10L223.83 444.20L227.83 444.78L232.83 445.12L236.83 445.03L240.83 446.31L245.83 447.17L249.83 448.21L254.83 449.05L258.83 449.59L262.83 449.99L267.83 449.40L271.83 449.58L276.83 449.67L280.83 450.13L284.83 450.44L289.83 450.16L293.83 449.19L298.83 447.90L302.83 446.79L306.83 445.21L311.83 444.91L315.83 444.04L320.83 443.56L324.83 442.80L328.83 441.81L333.83 441.49L337.83 441.89L342.83 442.50L346.83 443.07L350.83 444.50L355.83 445.09L359.83 445.49L364.83 445.81L368.83 446.00L372.83 446.79L377.83 446.80L381.83 447.00L386.83 447.00L390.83 446.44L394.83 444.74L399.83 443.75L403.83 442.76L408.83 440.66L412.83 437.86L416.83 435.51L421.83 432.51L425.83 429.77L430.83 424.65L434.83 419.42L438.83 416.70L443.83 415.00L447.83 413.62L452.83 410.90L456.83 408.82L460.83 404.59L465.83 401.49L469.83 397.56L474.83 397.44L478.83 396.35L482.83 394.68L487.83 393.57L491.83 393.33L496.83 395.75L500.83 398.14L504.83 401.54L509.83 404.04L513.83 407.83L518.83 410.34L522.83 414.19L526.83 417.67L531.83 419.37L535.83 419.44L540.83 418.04L544.83 416.23L548.83 415.64L553.83 415.78L557.83 414.76L562.83 414.94L566.83 414.29L570.83 413.49L575.83 413.70L579.83 414.13L584.83 415.53L588.83 416.86L592.83 417.45L597.83 418.53L601.83 419.36L606.83 419.66L610.83 421.25L614.83 421.28L619.83 421.37L623.83 421.29L628.83 422.88L632.83 424.26L636.83 425.75L641.83 427.23L645.83 429.43L650.83 429.67L654.83 430.65L658.83 432.64L663.83 433.18L667.83 434.21L672.83 433.20L676.83 433.74L680.83 433.85L685.83 433.47L689.83 432.58L694.83 433.85L698.83 433.58L702.83 433.10L707.83 433.37L711.83 433.47L716.83 434.56L720.83 434.62L724.83 435.02L729.83 435.70L733.83 436.57L738.83 437.18L742.83 436.68L746.83 436.66L751.83 436.18L755.83 435.94L760.83 436.34L764.83 437.26L768.83 436.47L773.83 435.38L777.83 433.23L782.83 431.34L786.83 431.32L790.83 431.53L795.83 431.12L799.83 431.02L804.83 428.94L808.83 427.43L812.83 427.70L817.83 428.59L821.83 431.09L826.83 431.99L830.83 433.71L834.83 434.79L839.83 436.38L843.83 437.70L848.83 439.00L852.83 440.35L856.83 440.89L861.83 441.37L865.83 441.59L870.83 442.47L874.83 442.65L878.83 442.06L883.83 441.95L887.83 442.03L892.83 443.24L896.83 443.40L900.83 444.06L905.83 444.46L909.83 444.04L914.83 444.20L918.83 442.81L922.83 443.41L927.83 443.81L931.83 443.62L936.83 443.52L940.83 443.78L944.83 443.41L949.83 442.83L953.83 442.63L958.83 440.67L962.83 440.15" fill="none" stroke="#ffff00" stroke-width="0.75" stroke-linejoin="round" stroke-linecap="round"/>
<clipPath id="kc"><rect x="0" y="476.2" width="990" height="113.8"/></clipPath>
<g clip-path="url(#kc)">
<path d="M3.83 548.91L7.83 541.77L12.83 537.88L16.83 534.64L20.83 537.88L25.83 543.07L29.83 548.91L34.83 554.75L38.83 558.64L42.83 561.89L47.83 564.87L51.83 567.08L56.83 569.28L60.83 568.88L64.83 564.01L69.83 557.71L73.83 551.94L78.83 547.54L82.83 544.83L86.83 543.94L91.83 543.41L95.83 542.22L100.83 541.20L104.83 536.99L108.83 532.95L113.83 529.46L117.83 526.76L122.83 525.63L126.83 525.73L130.83 523.79L135.83 521.56L139.83 520.66L144.83 518.78L148.83 517.66L152.83 517.90L157.83 521.91L161.83 526.53L166.83 531.80L170.83 539.65L174.83 547.11L179.83 552.89L183.83 555.50L188.83 558.05L192.83 558.69L196.83 553.86L201.83 546.61L205.83 539.53L210.83 536.61L214.83 536.75L218.83 539.59L223.83 542.32L227.83 544.64L232.83 546.79L236.83 551.39L240.83 555.70L245.83 559.61L249.83 563.65L254.83 566.16L258.83 568.18L262.83 568.58L267.83 568.00L271.83 567.75L276.83 568.68L280.83 568.98L284.83 570.27L289.83 571.98L293.83 569.59L298.83 563.36L302.83 556.48L306.83 550.35L311.83 545.34L315.83 541.38L320.83 539.61L324.83 537.22L328.83 534.40L333.83 535.86L337.83 536.18L342.83 534.91L346.83 536.55L350.83 539.61L355.83 540.39L359.83 540.60L364.83 541.43L368.83 544.34L372.83 549.37L377.83 554.38L381.83 552.57L386.83 546.75L390.83 539.95L394.83 533.55L399.83 528.14L403.83 524.33L408.83 520.76L412.83 518.53L416.83 516.90L421.83 516.86L425.83 515.79L430.83 514.38L434.83 514.22L438.83 515.60L443.83 517.07L447.83 517.23L452.83 517.15L456.83 516.03L460.83 514.63L465.83 514.08L469.83 515.56L474.83 515.31L478.83 514.81L482.83 516.81L487.83 522.51L491.83 529.36L496.83 534.21L500.83 537.52L504.83 540.83L509.83 542.92L513.83 544.77L518.83 547.31L522.83 551.88L526.83 555.66L531.83 559.52L535.83 558.08L540.83 552.05L544.83 545.53L548.83 538.72L553.83 532.62L557.83 529.46L562.83 527.95L566.83 528.16L570.83 530.96L575.83 536.90L579.83 544.41L584.83 548.90L588.83 550.22L592.83 550.66L597.83 548.69L601.83 546.81L606.83 545.99L610.83 542.27L614.83 542.08L619.83 544.60L623.83 549.53L628.83 554.39L632.83 559.26L636.83 562.91L641.83 566.10L645.83 569.15L650.83 569.69L654.83 569.82L658.83 569.89L663.83 568.06L667.83 562.99L672.83 560.93L676.83 560.48L680.83 558.60L685.83 556.04L689.83 557.61L694.83 560.51L698.83 559.88L702.83 556.58L707.83 553.10L711.83 548.85L716.83 545.12L720.83 543.62L724.83 544.96L729.83 548.09L733.83 552.77L738.83 556.19L742.83 553.68L746.83 549.70L751.83 545.08L755.83 542.90L760.83 542.64L764.83 542.08L768.83 541.03L773.83 537.28L777.83 533.16L782.83 530.28L786.83 529.89L790.83 529.66L795.83 527.83L799.83 526.84L804.83 524.36L808.83 521.65L812.83 521.57L817.83 523.78L821.83 525.29L826.83 530.53L830.83 536.13L834.83 542.21L839.83 547.10L843.83 550.81L848.83 550.06L852.83 546.43L856.83 541.99L861.83 540.76L865.83 539.05L870.83 540.39L874.83 540.80L878.83 538.35L883.83 533.94L887.83 530.08L892.83 526.14L896.83 523.51L900.83 522.75L905.83 522.43L909.83 524.55L914.83 531.75L918.83 538.41L922.83 544.59L927.83 548.33L931.83 551.47L936.83 551.26L940.83 550.82L944.83 548.74L949.83 544.40L953.83 539.49L958.83 533.74L962.83 529.50" fill="none" stroke="#ffff00" stroke-width="0.75" stroke-linejoin="round" stroke-linecap="round"/>
<path d="M3.83 533.99L7.83 527.50L12.83 529.45L16.83 527.50L20.83 544.37L25.83 553.45L29.83 559.94L34.83 566.43L38.83 566.43L42.83 568.76L47.83 572.27L51.83 571.62L56.83 574.86L60.83 568.09L64.83 554.26L69.83 545.10L73.83 540.42L78.83 538.73L82.83 539.40L86.83 542.17L91.83 542.34L95.83 539.83L100.83 539.16L104.83 528.57L108.83 524.88L113.83 522.49L117.83 521.35L122.83 523.36L126.83 525.94L130.83 519.91L135.83 517.11L139.83 518.85L144.83 515.03L148.83 515.43L152.83 518.36L157.83 529.93L161.83 535.78L166.83 542.35L170.83 555.34L174.83 562.03L179.83 564.47L183.83 560.71L188.83 563.14L192.83 559.98L196.83 544.19L201.83 532.11L205.83 525.38L210.83 530.78L214.83 537.02L218.83 545.26L223.83 547.78L227.83 549.27L232.83 551.09L236.83 560.61L240.83 564.30L245.83 567.45L249.83 571.71L254.83 571.20L258.83 572.22L262.83 569.37L267.83 566.84L271.83 567.25L276.83 570.54L280.83 569.57L284.83 572.85L289.83 575.41L293.83 564.80L298.83 550.91L302.83 542.71L306.83 538.09L311.83 535.32L315.83 533.48L320.83 536.07L324.83 532.43L328.83 528.77L333.83 538.77L337.83 536.82L342.83 532.39L346.83 539.81L350.83 545.74L355.83 541.94L359.83 541.01L364.83 543.10L368.83 550.15L372.83 559.44L377.83 564.40L381.83 548.96L386.83 535.11L390.83 526.33L394.83 520.76L399.83 517.30L403.83 516.73L408.83 513.62L412.83 514.07L416.83 513.64L421.83 516.78L425.83 513.65L430.83 511.57L434.83 513.89L438.83 518.35L443.83 520.01L447.83 517.56L452.83 516.98L456.83 513.79L460.83 511.84L465.83 512.99L469.83 518.52L474.83 514.81L478.83 513.79L482.83 520.83L487.83 533.91L491.83 543.06L496.83 543.90L500.83 544.13L504.83 547.47L509.83 547.09L513.83 548.47L518.83 552.39L522.83 561.00L526.83 563.22L531.83 567.26L535.83 555.21L540.83 539.97L544.83 532.49L548.83 525.11L553.83 520.43L557.83 523.13L562.83 524.94L566.83 528.58L570.83 536.55L575.83 548.79L579.83 559.43L584.83 557.89L588.83 552.84L592.83 551.54L597.83 544.75L601.83 543.04L606.83 544.35L610.83 534.83L614.83 541.69L619.83 549.65L623.83 559.40L628.83 564.09L632.83 568.99L636.83 570.20L641.83 572.50L645.83 575.24L650.83 570.77L654.83 570.09L658.83 570.02L663.83 564.40L667.83 552.84L672.83 556.81L676.83 559.58L680.83 554.85L685.83 550.92L689.83 560.74L694.83 566.32L698.83 558.63L702.83 549.97L707.83 546.15L711.83 540.34L716.83 537.66L720.83 540.61L724.83 547.65L729.83 554.34L733.83 562.13L738.83 563.04L742.83 548.66L746.83 541.73L751.83 535.83L755.83 538.54L760.83 542.13L764.83 540.95L768.83 538.93L773.83 529.78L777.83 524.91L782.83 524.54L786.83 529.10L790.83 529.20L795.83 524.18L799.83 524.85L804.83 519.39L808.83 516.23L812.83 521.42L817.83 528.20L821.83 528.29L826.83 541.02L830.83 547.33L834.83 554.36L839.83 556.88L843.83 558.23L848.83 548.57L852.83 539.16L856.83 533.13L861.83 538.29L865.83 535.62L870.83 543.08L874.83 541.63L878.83 533.43L883.83 525.12L887.83 522.36L892.83 518.27L896.83 518.26L900.83 521.22L905.83 521.80L909.83 528.80L914.83 546.14L918.83 551.74L922.83 556.95L927.83 555.82L931.83 557.73L936.83 550.85L940.83 549.93L944.83 544.59L949.83 535.72L953.83 529.66L958.83 522.24L962.83 521.01" fill="none" stroke="#ffffff" stroke-width="0.75" stroke-linejoin="round" stroke-linecap="round"/>
<path d="M3.83 504.15L7.83 498.96L12.83 512.58L16.83 513.23L20.83 557.34L25.83 574.21L29.83 582.00L34.83 589.78L38.83 582.00L42.83 582.52L47.83 587.06L51.83 580.70L56.83 586.02L60.83 566.49L64.83 534.77L69.83 519.88L73.83 517.36L78.83 521.12L82.83 528.55L86.83 538.64L91.83 540.21L95.83 535.07L100.83 535.09L104.83 511.74L108.83 508.73L113.83 508.53L117.83 510.53L122.83 518.83L126.83 526.35L130.83 512.14L135.83 508.21L139.83 515.22L144.83 507.53L148.83 510.95L152.83 519.29L157.83 545.98L161.83 554.27L166.83 563.45L170.83 586.72L174.83 591.87L179.83 587.61L183.83 571.14L188.83 573.33L192.83 562.55L196.83 524.86L201.83 503.12L205.83 497.07L210.83 519.11L214.83 537.57L218.83 556.62L223.83 558.71L227.83 558.55L232.83 559.68L236.83 579.04L240.83 581.50L245.83 583.13L249.83 587.83L254.83 581.26L258.83 580.29L262.83 570.95L267.83 564.53L271.83 566.25L276.83 574.26L280.83 570.77L284.83 578.01L289.83 582.26L293.83 555.22L298.83 526.01L302.83 515.17L306.83 513.58L311.83 515.29L315.83 517.66L320.83 528.98L324.83 522.86L328.83 517.51L333.83 544.60L337.83 538.10L342.83 527.33L346.83 546.33L350.83 558.00L355.83 545.05L359.83 541.84L364.83 546.45L368.83 561.78L372.83 579.57L377.83 584.45L381.83 541.73L386.83 511.82L390.83 499.10L394.83 495.18L399.83 495.64L403.83 501.53L408.83 499.34L412.83 505.14L416.83 507.13L421.83 516.61L425.83 509.37L430.83 505.94L434.83 513.24L438.83 523.87L443.83 525.91L447.83 518.22L452.83 516.65L456.83 509.31L460.83 506.24L465.83 510.80L469.83 524.44L474.83 513.82L478.83 511.76L482.83 528.87L487.83 556.71L491.83 570.46L496.83 563.28L500.83 557.36L504.83 560.74L509.83 555.44L513.83 555.87L518.83 562.56L522.83 579.26L526.83 578.35L531.83 582.72L535.83 549.45L540.83 515.82L544.83 506.41L548.83 497.88L553.83 496.05L557.83 510.48L562.83 518.90L566.83 529.41L570.83 547.74L575.83 572.56L579.83 589.47L584.83 575.86L588.83 558.09L592.83 553.30L597.83 536.87L601.83 535.51L606.83 541.08L610.83 519.95L614.83 540.92L619.83 559.74L623.83 579.14L628.83 583.51L632.83 588.47L636.83 584.80L641.83 585.30L645.83 587.41L650.83 572.94L654.83 570.62L658.83 570.27L663.83 557.08L667.83 532.56L672.83 548.57L676.83 557.77L680.83 547.35L685.83 540.68L689.83 567.00L694.83 577.95L698.83 556.12L702.83 536.76L707.83 532.24L711.83 523.33L716.83 522.74L720.83 534.60L724.83 553.03L729.83 566.85L733.83 580.86L738.83 576.74L742.83 538.62L746.83 525.79L751.83 517.35L755.83 529.82L760.83 541.11L764.83 538.70L768.83 534.73L773.83 514.77L777.83 508.42L782.83 513.04L786.83 527.53L790.83 528.29L795.83 516.88L799.83 520.88L804.83 509.46L808.83 505.39L812.83 521.11L817.83 537.04L821.83 534.31L826.83 562.00L830.83 569.73L834.83 578.66L839.83 576.44L843.83 573.07L848.83 545.58L852.83 524.63L856.83 515.40L861.83 533.36L865.83 528.78L870.83 548.45L874.83 543.27L878.83 523.60L883.83 507.48L887.83 506.93L892.83 502.53L896.83 507.74L900.83 518.16L905.83 520.54L909.83 537.28L914.83 574.92L918.83 578.40L922.83 581.67L927.83 570.78L931.83 570.26L936.83 550.02L940.83 548.15L944.83 536.28L949.83 518.37L953.83 510.02L958.83 499.25L962.83 504.03" fill="none" stroke="#ff00ff" stroke-width="0.75" stroke-linejoin="round" stroke-linecap="round"/>
</g>
<path d="M60.87 340.53H72.33M63.07 338.53L60.87 340.53L63.07 342.53" stroke="#dcdcdc" stroke-width="0.8" fill="none"/>
<path d="M57.07 345.93L60.93 341.73L65.20 345.93Z" fill="#ff0000"/>
<path d="M558.00 31.00L558.00 26.67L561.00 25.73M558.00 27.67L563.33 29.47L566.67 29.73L569.33 31.33" stroke="#dcdcdc" stroke-width="0.8" fill="none"/>
</g>
</svg>
</body></html>
